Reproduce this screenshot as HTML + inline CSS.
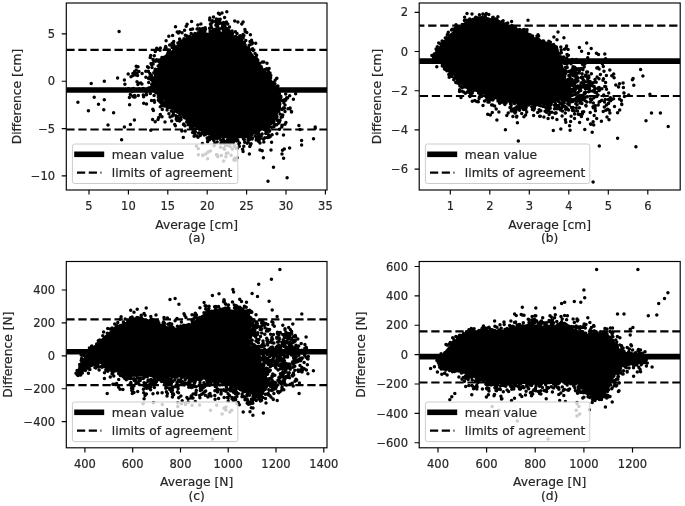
<!DOCTYPE html>
<html><head><meta charset="utf-8"><title>Bland-Altman plots</title>
<style>html,body{margin:0;padding:0;background:#fff}svg{display:block;filter:blur(0.55px)}text{stroke:#262626;stroke-width:.2px}</style>
</head><body>
<svg width="685" height="506" viewBox="0 0 685 506" font-family='"DejaVu Sans", "Liberation Sans", sans-serif' fill="#262626">
<rect width="685" height="506" fill="#fff"/>
<clipPath id="cl0"><rect x="66.3" y="3.0" width="260.7" height="187.0"/></clipPath>
<g clip-path="url(#cl0)">
<path d="M152.1 81.5L155.3 89.2L162.3 98.1L171.4 105.6L180.1 113L189.7 121.1L199.2 129L208.1 134.4L223.2 137.2L238.5 137.4L250.3 135.2L260.1 130.2L269.4 123.5L275.2 116.8L278.4 110.6L280.4 103.6L278.1 93L271.9 81.9L265.8 72.4L257.7 62.8L251.1 53.1L244.2 44.9L236.6 37.8L231.1 35.4L222.1 34L213.1 33.6L203.9 33.7L194.9 35.1L187.6 38.3L180.1 43.1L172.3 51L164.1 60.9L157.1 70.8Z" fill="#000" stroke="#000" stroke-width="2" stroke-linejoin="round"/>
<path d="M178.9 117.9h0M165.8 102.6h0M226.9 145.5h0M201.2 133.4h0M179.6 118.7h0M205.4 134.4h0M235.8 39.2h0M236.9 40h0M242.6 137h0M198.6 133.1h0M199.9 129.8h0M182.3 40.9h0M250.1 135h0M276.9 133.7h0M161.9 57.5h0M186.9 119.3h0M189.6 121.9h0M175.9 115.8h0M178.7 112.6h0M240.4 39.7h0M224.4 141.2h0M231.3 143h0M225 30.1h0M245 136.8h0M217.1 25.1h0M277.8 110.4h0M199.1 29.4h0M179.6 121.1h0M275.2 80.2h0M168.7 104.5h0M202.4 143.6h0M285 111.6h0M273.9 126.8h0M167.1 56.4h0M264.8 137.7h0M155.3 69.2h0M248.1 142.2h0M269.5 130.6h0M201.1 33.2h0M202.2 34.2h0M256.8 132.1h0M179.6 41.8h0M209 137.2h0M173.9 48.4h0M243.7 137.4h0M255.2 136h0M168.1 56.9h0M282.4 116.8h0M217.3 138.6h0M227.3 140.3h0M155.4 72.7h0M176.2 108.5h0M225.5 145.4h0M203 31.1h0M281.8 127h0M264.5 129.5h0M266.6 125.4h0M173.6 44.6h0M195.3 131.7h0M243.9 136.7h0M221.9 140.5h0M228.3 32.7h0M157.7 70.9h0M183.5 124.5h0M219.3 31.9h0M207.2 137.9h0M189.3 37.6h0M217.2 135.9h0M165.2 48.3h0M277 116.7h0M171.7 106.4h0M172.4 115.9h0M174.6 46.5h0M251.9 134.5h0M270.8 75.6h0M155.9 92.4h0M261 67.4h0M289.8 108.7h0M239.3 146.3h0M159.7 64.9h0M166.8 106h0M192.3 126.1h0M231.3 36.9h0M241.4 41.5h0M168.3 50h0M153.8 72.7h0M238.7 136.5h0M217.7 26.3h0M223.4 136.8h0M256.4 137.8h0M261.2 136.2h0M173.2 114.2h0M157.6 92.5h0M178.4 32.9h0M213.3 35.5h0M194.9 33.6h0M226.4 31.7h0M200.1 33.8h0M248.2 139.2h0M214.8 143.2h0M272.1 134.7h0M266.4 130.4h0M283.8 102.8h0M200.4 31h0M151 77.6h0M252.6 48.7h0M243.6 42.3h0M209.5 139.8h0M257.8 60h0M240.4 38.1h0M273.8 122.2h0M188.2 124.8h0M180.5 111.4h0M158.4 95.8h0M150.6 87.4h0M238.5 144.5h0M285.7 100.2h0M241.6 39.9h0M157.4 70.8h0M285 124.2h0M154.2 100.6h0M218.2 31.7h0M218.4 32.3h0M179.6 39.1h0M258.9 138.5h0M271.2 122.9h0M157.3 90.4h0M270.5 119.4h0M215.8 28.9h0M260 142.9h0M226.9 32.4h0M291.5 111.6h0M167.5 107.5h0M211.9 22.8h0M179.4 31.7h0M222.1 34.3h0M159.5 100.9h0M149.8 76.8h0M238.4 37.5h0M157.8 69.5h0M265 128.3h0M223.5 142.9h0M202.9 28.5h0M269.9 122.8h0M156.4 89.2h0M160.3 106.7h0M148.7 82.5h0M256.8 59.9h0M229.3 143.2h0M273.4 120.9h0M211.9 31.6h0M194.3 129.8h0M184.6 117.8h0M172.2 43.3h0M188.2 123.2h0M222.2 33.9h0M237.4 147.9h0M238.9 39.2h0M256.6 55.3h0M214.1 138.3h0M179.8 114.3h0M279.3 93.4h0M162.2 99.4h0M262.5 61.9h0M265.2 69.4h0M280 114.1h0M283.5 135h0M249 49.6h0M179 43h0M243.6 44h0M236.8 140.9h0M269.5 131.3h0M161.5 66.3h0M287.5 98h0M238.6 40.3h0M181.3 116.9h0M274.9 118.3h0M269.2 124.1h0M209.7 34.3h0M274.4 125.5h0M155.5 61.3h0M225.6 33.8h0M216.2 21.6h0M223.7 29.5h0M250.1 135.9h0M211.8 135.2h0M232.6 33.4h0M151 79.5h0M218.5 138.1h0M286.7 97.8h0M256.5 58.5h0M161.3 96.8h0M162.3 62h0M232.3 149.1h0M284.4 108.2h0M164.4 57.2h0M232.5 140.3h0M230.9 33.6h0M183.7 123.9h0M177.2 31.9h0M165.4 105h0M263.9 127.8h0M172.6 35.5h0M232.9 136.8h0M266.7 73.5h0M189.1 120.5h0M187.1 24.2h0M281.9 125.2h0M277.7 88.9h0M199.2 32.8h0M276.7 124.8h0M244.3 139.8h0M266.1 126.3h0M160.8 101h0M276.6 86.8h0M214.3 139.3h0M260.4 66.8h0M281.2 117.2h0M263.8 142.1h0M201.2 29.2h0M162.1 99.9h0M184.3 114.1h0M269.9 123h0M229.6 31.9h0M278 107.1h0M198.1 32.8h0M252.4 137.9h0M166.2 55.9h0M229.5 27h0M273.8 118.4h0M166.7 57.6h0M165.7 46.4h0M241.7 37.6h0M172.5 46.4h0M233.5 141.5h0M192 127.8h0M268.1 71.6h0M190.6 29.5h0M183.4 40.5h0M243.6 138.5h0M160.8 62.7h0M273.5 123.1h0M275.4 125h0M204.8 31.7h0M278.6 106.3h0M277.9 85.9h0M158.4 97.2h0M214.7 31.7h0M217.1 141.9h0M243.9 35.6h0M257.7 62.5h0M203.4 133.3h0M234.6 140h0M154.3 55.7h0M173 107.2h0M153.5 85.2h0M213.3 21.2h0M171.7 121.1h0M177.1 120.5h0M257.2 137.4h0M273.6 82.3h0M169.7 45h0M156.9 70.6h0M244 135.1h0M212 137.5h0M163.5 102.5h0M247.1 133.8h0M151.5 100.5h0M210.3 31.7h0M201.6 130h0M209.1 133.3h0M155.7 72.5h0M190.3 123.2h0M282 125.8h0M151.7 84.6h0M269.5 126.7h0M266.6 125.5h0M161.9 104.5h0M259.1 140.5h0M231.1 31.8h0M273.4 85h0M149.9 73.5h0M176.8 117.1h0M200.3 135.5h0M167.8 53.2h0M268.7 129.3h0M243.4 137.3h0M283.4 108h0M279.5 129.2h0M248.7 136.3h0M203.4 34.1h0M235.4 137.2h0M217.5 20.1h0M227.1 142.3h0M229.8 141.3h0M195.7 36.2h0M278.8 111.1h0M155 70.3h0M160.6 100.2h0M166 47.7h0M178.4 48.1h0M161 63.2h0M215.9 25.2h0M279.7 97.2h0M232.2 36.2h0M176.2 119.2h0M224.9 34.5h0M186.9 117.3h0M185.2 131h0M171.3 111.1h0M250 41.4h0M275.2 118.5h0M197.8 25.1h0M162 60.9h0M203.1 131.4h0M158.3 100.3h0M263.9 138.7h0M217.3 136.7h0M260.2 138.6h0M199.7 33.3h0M174.5 50.6h0M184 38.7h0M170.8 53h0M166.4 103.5h0M282.8 115.1h0M281.6 100.2h0M203.7 33.3h0M169.9 107.1h0M212.8 34.1h0M246.8 32.6h0M158.2 66.1h0M184.9 125.7h0M225.3 142.5h0M164.2 105.9h0M251.6 138.8h0M214.1 145.8h0M195.3 131.9h0M265.5 130.3h0M244.6 46h0M223 142.6h0M169.4 107.4h0M252.1 43.8h0M201.7 31.1h0M159.5 99.1h0M252.4 42.7h0M266.8 131.5h0M267.6 128.1h0M238.4 38.8h0M274.6 124.7h0M220.1 136.9h0M152.4 77.7h0M160 97.3h0M212.8 133.1h0M236.3 138.3h0M212.3 135.7h0M160.6 59.8h0M152 67.5h0M209.6 28.2h0M177.8 110.5h0M165.4 58.2h0M280 108.4h0M178.8 112.1h0M249.6 139.5h0M178.8 45.9h0M280.5 99.6h0M210.4 23.9h0M185.3 35.2h0M277.8 111h0M179.2 111.4h0M198.3 34.6h0M278.7 122.9h0M150.3 93.5h0M214.9 136.7h0M192.6 29h0M249 49.1h0M267.5 131.5h0M168.4 52.1h0M243.5 139.1h0M256.2 140h0M231.4 33.4h0M261.2 66.8h0M155.2 91.3h0M154.1 95.5h0M207.8 139.9h0M189.6 36.5h0M190 123.4h0M166.6 57.4h0M193.4 130.3h0M163.2 104.2h0M269.6 76.1h0M231.8 137.9h0M271 123.6h0M246.1 47.7h0M264.3 129.6h0M210.1 31h0M172.9 46.3h0M205.5 29.2h0M224.1 141.6h0M180.6 40.8h0M249.1 45.2h0M220.5 147.3h0M149 90.6h0M219.1 29.2h0M161.2 65.3h0M232.1 137.6h0M200.9 29.6h0M235.5 36.6h0M247.3 136.8h0M278.4 121.3h0M198.1 34.3h0M266.2 132h0M142.1 73.4h0M258.7 141.5h0M169.4 50.3h0M192.2 127.1h0M267.3 137.6h0M271.6 142.3h0M177.9 42.9h0M220.1 32.7h0M279.7 104.4h0M278.7 109.4h0M269.7 126.6h0M279.4 106.3h0M170.4 107.6h0M213.8 140.4h0M154.5 102.2h0M269.2 123.8h0M276.4 115.4h0M217.4 137.1h0M173.7 45h0M233.4 140.9h0M274.9 83.7h0M223.4 29.1h0M276.9 78.3h0M153.8 61.2h0M258.8 130.9h0M163.8 59.6h0M216.1 135.2h0M255.1 53.6h0M197.1 126.9h0M257.9 131.8h0M236.7 138.1h0M229.9 137.3h0M173.4 112.6h0M223.3 139.3h0M187 35.9h0M234.3 139.5h0M193.3 34.9h0M270.2 77.8h0M177.3 111.5h0M153 59.4h0M186.2 38.9h0M237 33.5h0M257.1 60.1h0M148.4 71.3h0M254.4 57.9h0M281.9 100.6h0M266.6 73.8h0M249.8 146.4h0M164.7 59.3h0M263.8 61.9h0M202.1 130.6h0M242.6 43.4h0M268.4 71.6h0M190.5 127.4h0M272.2 121.2h0M160.1 64.5h0M194.8 133.4h0M189.7 124.6h0M280.8 96.3h0M275.1 87.5h0M277.4 119.8h0M233.2 142.9h0M247.2 143.3h0M177.4 112h0M175.6 108.6h0M227.9 136.3h0M279.4 122.1h0M271.7 127.3h0M231.4 139.7h0M236.3 37h0M284.5 99.7h0M220.8 140.2h0M248.4 47.6h0M198.8 128.8h0M272.7 120.1h0M167.7 58.7h0M148.6 78.4h0M162.5 59.2h0M197.1 127.1h0M232.1 31.1h0M257.4 62h0M283.7 101h0M194.4 125.6h0M186.7 121.9h0M231.4 140.1h0M191.2 33.5h0M233.8 136.6h0M246.2 47.5h0M260.8 66.8h0M187.7 36.8h0M177.9 46h0M174.7 111.3h0M239.5 143.1h0M276.9 86.6h0M224.3 29.2h0M148.4 71.5h0M173 108.6h0M244.7 142.2h0M291.5 111.9h0M288 108.7h0M154.7 84.8h0M217.7 31.7h0M160.2 98.7h0M210.4 137.5h0M145.9 77.3h0M223.8 148.3h0M248.1 140.1h0M196.9 136h0M183.7 40.1h0M283.7 101.5h0M158.7 61.5h0M153.2 59.6h0M243.1 34.4h0M208.2 138.9h0M289.6 148h0M139.1 89h0M262.1 133.9h0M255.7 56.9h0M211.9 138.6h0M258.6 133.6h0M231.1 155.3h0M208.1 152h0M260 63.3h0M147.2 89.3h0M150.1 78.4h0M226.8 144.5h0M191.7 124.3h0M150.8 89.5h0M228 137.7h0M173.7 44.4h0M270.1 136.8h0M275.3 116.7h0M224.6 17.6h0M178.3 112.4h0M176.4 117.2h0M275.3 87.2h0M167 106.9h0M243.2 38.1h0M186.2 26.2h0M271.7 117.8h0M162.3 109.5h0M168.9 113.8h0M265.8 133.5h0M268.9 137.3h0M285 105h0M197.6 28.7h0M237.2 157.8h0M237.9 22.1h0M207.6 158.8h0M217.4 154.9h0M199.8 28.7h0M228.6 34.3h0M136.2 66.3h0M269 74.9h0M170.1 116.9h0M216.4 154.7h0M285.9 122.4h0M237.8 140.5h0M191.8 123.2h0M179.4 112h0M201.3 33.3h0M244.4 42.8h0M258.9 135.5h0M253.2 50.4h0M289.7 95.8h0M295.6 93.7h0M164 62.6h0M224.4 28.1h0M209.8 18.1h0M263.4 157.8h0M196.4 128.6h0M154.6 91.1h0M192.6 132.6h0M245.1 45h0M262.2 150.8h0M230.2 139.6h0M177.1 111.2h0M207.6 141.8h0M268.7 76.8h0M229.9 139.6h0M282.1 109.6h0M225.9 156.7h0M230 36h0M196.4 146h0M220.9 22.9h0M159.9 49.5h0M224.5 149.3h0M235.5 31.7h0M204.2 135.1h0M198 137.3h0M159.4 65h0M211.6 27.8h0M284.3 148.9h0M138.9 71.6h0M280.9 97.2h0M175.5 26.7h0M223 28.3h0M219.2 20.8h0M245.8 40.4h0M242.6 149.2h0M230 146.4h0M166.1 40.8h0M285.7 94h0M156.6 59.7h0M181.8 131h0M276.5 78.5h0M220.9 143.4h0M172.1 47.6h0M251 143.7h0M239.7 36.1h0M168.8 36.2h0M240.3 35.7h0M234.4 146h0M256.3 133.7h0M223.6 161.1h0M276.9 120.2h0M242 38.3h0M243.8 146.3h0M222.5 140.6h0M194.1 136.3h0M181 119.4h0M248.8 50.5h0M145.8 71.2h0M269.1 68.6h0M269.1 135.4h0M157 93h0M252.1 139.1h0M150.3 93.2h0M280.3 98.2h0M250.9 44.3h0M137.9 84.4h0M143.7 103.2h0M212.8 137.8h0M280 120.2h0M263.4 138.9h0M177.8 116.7h0M173.7 41.6h0M251.5 40.2h0M218 22.8h0M162.5 101.9h0M222 13.1h0M250.5 144.9h0M270.6 77.7h0M150.7 55.5h0M250.3 135.3h0M268.5 134.8h0M194.1 128.9h0M266.8 68.7h0M159.8 95.7h0M151.7 64.8h0M151 63.5h0M136 74.9h0M159.2 86.1h0M153.1 90.1h0M159 60.1h0M133.9 97.1h0M134.6 95.6h0M133.3 88.6h0M132.9 73.5h0M147.5 66.8h0M133 75.5h0M156.7 48.3h0M128.2 73.9h0M150.2 57.6h0M151.3 75.2h0M153.1 64.1h0M148.7 88.1h0M162.8 105.8h0M134.6 71.6h0M130.3 90.1h0M138.3 95.4h0M143.1 88.6h0M128.4 88.8h0M132.8 96.3h0M154.1 79.8h0M167.8 105.5h0M152.8 78.7h0M141.9 83.9h0M146.5 94.7h0M148.4 67.5h0M167.1 110h0M165 121.9h0M152.6 119.4h0M155.2 121.8h0M133 74.1h0M160 102.1h0M162 57.4h0M143.6 96.7h0M130.3 94.5h0M135.1 96.9h0M142.3 90h0M174.7 124.6h0M159.5 49.2h0M158 119.4h0M154.9 73.8h0M160.3 47.9h0M138.5 83.3h0M158.7 117.4h0M146.2 92.3h0M160 50.2h0M159.4 84.9h0M153.4 110.5h0M146.5 104.1h0M143.3 95.1h0M161.3 103.1h0M132.3 91.5h0M153.6 86.3h0M162 116.8h0M155.3 51.4h0M136.9 73.4h0M131 76.7h0M161 98.9h0M136.2 70.1h0M144.2 89.9h0M152.8 109.2h0M137.6 75.6h0M175.4 125.7h0M138 66.8h0M160.3 114.5h0M148 88.5h0M205.8 154h0M221.4 155.4h0M210.4 150.9h0M234.5 158.3h0M233.9 159.9h0M198.3 148.7h0M202.9 155.4h0M202.7 155h0M236.2 148.3h0M227.9 153.1h0M198.4 154.8h0M226.3 153.5h0M217.8 156.7h0M235.2 160.3h0M213.8 29.8h0M223 25.1h0M218.6 19.5h0M211 25.3h0M217.5 28.3h0M213.5 38.9h0M208.8 34.6h0M227.8 39h0M234.7 21.1h0M226.3 34h0M231.2 32.5h0M218.7 37.3h0M222.5 26.3h0M225 26.6h0M218 30.1h0M245.2 31.4h0M224.2 26.6h0M226.4 22.1h0M227.6 31.1h0M224.3 32.4h0M221.9 33.5h0M228 32.9h0M223.6 34.9h0M222.1 37.4h0M222.7 37.3h0M225.7 29.2h0M215.3 33.3h0M226.5 29.7h0M226.9 30.3h0M216.1 22.2h0M228.8 30.6h0M236.1 41.8h0M230.4 33.4h0M228.3 30.1h0M218.4 13.3h0M229.9 33.1h0M223.9 30.3h0M231.6 35.1h0M225.2 27.9h0M228.6 34.4h0M241.8 23.9h0M227.7 24.1h0M219.9 43.9h0M220.2 28.7h0M218.9 34.8h0M220.2 19.2h0M224.8 34.5h0M223.4 30.4h0M217.9 23.7h0M223.6 22.4h0M219.9 23.3h0M221.6 34.3h0M223.2 36.4h0M226.5 28.5h0M216 30h0M213.9 34h0M212.4 20.7h0M216.4 19h0M224.2 24.5h0M219.6 33.1h0M205.2 27.7h0M226.3 35.5h0M224.4 25.1h0M231 35h0M241.5 42.5h0M221.7 37.7h0M225.1 23h0M229.2 37.3h0M204 37.5h0M216.5 39.2h0M119.1 31.4h0M77.9 102.3h0M88.4 110.8h0M91.2 83.4h0M94.2 97.2h0M98.5 104.3h0M104.3 81.2h0M104.3 99.7h0M103.8 109.8h0M113.6 112.8h0M117.6 77.9h0M124.4 79.9h0M124.9 84.2h0M129.4 97.5h0M129.6 104.8h0M133.9 74.6h0M134.4 120.1h0M130.4 124.4h0M108 125h0M124.4 127.1h0M121.6 139.7h0M137 81.7h0M140.7 82.9h0M150.8 130.2h0M183.3 137.6h0M273.5 167.2h0M268 181.3h0M287.1 177.8h0M283.6 158.2h0M301.6 140.6h0M301.6 145.1h0M313.5 138.8h0M300.1 129.5h0M315.2 128.3h0M282.5 150.2h0M282 153.9h0M243.1 151.4h0M249.4 153.9h0M260 150h0M271 150h0M226.8 11.8h0M219.7 14.3h0M213.5 17.1h0M209.7 20.1h0M191.6 21.4h0M243.1 21.9h0M244.9 29.6h0M250.4 34.7h0M255.7 43.2h0M267 63.3h0M270 72.9h0M293.4 99.2h0M290.1 108h0M298.9 125.6h0M315.2 126.9h0M182 32.7h0M184.6 30.2h0M197.1 28.9h0M200.9 23.9h0" fill="none" stroke="#000" stroke-width="3.5" stroke-linecap="round"/>
<path d="M66.3 90.0H327.0" stroke="#000" stroke-width="5.6" fill="none"/>
<path d="M66.3 49.9H327.0" stroke="#000" stroke-width="2.2" stroke-dasharray="8.3 3.75" stroke-dashoffset="0.0" fill="none"/>
<path d="M66.3 129.5H327.0" stroke="#000" stroke-width="2.2" stroke-dasharray="8.3 3.75" stroke-dashoffset="0.0" fill="none"/>
</g>
<rect x="72.4" y="144.0" width="165.4" height="39.5" rx="2.2" fill="#fff" fill-opacity="0.8" stroke="#ccc" stroke-width="1"/>
<path d="M77.0 154.3h24.4" stroke="#000" stroke-width="5.6" stroke-linecap="square" fill="none"/>
<path d="M77.0 172.6h24.4" stroke="#000" stroke-width="2.2" stroke-dasharray="8.2 3.55" fill="none"/>
<text x="111.8" y="158.6" font-size="12.3">mean value</text>
<text x="111.8" y="176.9" font-size="12.3">limits of agreement</text>
<rect x="66.3" y="3.0" width="260.7" height="187.0" fill="none" stroke="#000" stroke-width="1.15"/>
<path d="M89.0 190.0v4.6M128.4 190.0v4.6M167.8 190.0v4.6M207.2 190.0v4.6M246.6 190.0v4.6M286.0 190.0v4.6M325.4 190.0v4.6M66.3 33.9h-4.6M66.3 81.2h-4.6M66.3 128.6h-4.6M66.3 175.9h-4.6" stroke="#000" stroke-width="1.15" fill="none"/>
<g font-size="11.5" text-anchor="middle">
<text x="89.0" y="210.3">5</text>
<text x="128.4" y="210.3">10</text>
<text x="167.8" y="210.3">15</text>
<text x="207.2" y="210.3">20</text>
<text x="246.6" y="210.3">25</text>
<text x="286.0" y="210.3">30</text>
<text x="325.4" y="210.3">35</text>
</g>
<g font-size="11.5" text-anchor="end">
<text x="55.1" y="38.0">5</text>
<text x="55.1" y="85.3">0</text>
<text x="55.1" y="132.7">−5</text>
<text x="55.1" y="180.0">−10</text>
</g>
<text x="196.7" y="228.5" font-size="12.3" text-anchor="middle">Average [cm]</text>
<text x="196.7" y="242.0" font-size="12.3" text-anchor="middle">(a)</text>
<text transform="translate(20.5 96.5) rotate(-90)" font-size="12.3" text-anchor="middle">Difference [cm]</text>
<clipPath id="cl1"><rect x="419.2" y="3.0" width="261.0" height="187.0"/></clipPath>
<g clip-path="url(#cl1)">
<path d="M435.5 53.4L437.6 59.5L444.1 66.6L452.9 73.7L459.1 81.2L466.1 87.5L477.2 91.2L488.7 95.3L504.9 100.5L521.3 102.6L535.8 104.1L549.6 103.5L558.8 99.8L566.1 94.9L567.2 89.6L565.6 79.7L562.9 68.2L559.1 56.5L556.9 46.5L549.6 43.8L537.7 39.8L525.8 33.7L514.5 27.7L503.1 23.9L493.4 20L484.6 17.3L477.1 17.2L468.2 20.7L462.1 25.1L453.2 32.2L446.2 39.3L440.6 46.4Z" fill="#000" stroke="#000" stroke-width="2" stroke-linejoin="round"/>
<path d="M481.5 96.6h0M457.4 83.1h0M505.5 102.3h0M558.5 105.7h0M463.6 91.9h0M567.2 61h0M445.3 38h0M515.6 112.1h0M523.6 31.6h0M522.9 104.5h0M469.7 89.3h0M497.4 21.8h0M574.4 72.4h0M457.4 75.8h0M560 109.3h0M449.2 77.3h0M504.9 104.5h0M568.1 101.5h0M442.7 65.2h0M533.4 103.3h0M492.3 97.8h0M515.3 107.9h0M550.2 108.2h0M505.7 103h0M436.6 50.5h0M514 108.8h0M498.5 21.5h0M449.8 75.5h0M560.6 59.4h0M465.5 86.8h0M512.9 116.4h0M568.8 75.5h0M498.9 112.1h0M562.5 96.9h0M447.7 34.1h0M518.8 107.7h0M521.6 104.3h0M489.1 102h0M551.1 104.4h0M501.4 22h0M516.7 108.7h0M461.1 86.4h0M527 29.7h0M467.3 91.9h0M515 113.1h0M524.2 29.6h0M504 103h0M517.4 122.8h0M562.1 116.1h0M566.8 80.8h0M454.4 29.8h0M496.9 19.7h0M517.4 101.2h0M566.2 93.1h0M492.3 112.4h0M565.4 60.8h0M563.4 74.7h0M474.8 100.4h0M480.4 94.2h0M488.8 100h0M443 43.7h0M556.3 105.2h0M470.9 90.1h0M565.3 70.3h0M536.5 104.3h0M453.8 79.7h0M503.1 20.8h0M480.3 91h0M545.1 111.2h0M512.9 28.7h0M554.5 105.3h0M455.1 78h0M521.2 105h0M559.7 59.1h0M499.9 103.3h0M562.4 71h0M566 92.7h0M486.3 13.6h0M513.5 110.1h0M485.4 15.8h0M515.2 109.2h0M554.5 108.7h0M519.3 104.7h0M532.6 36.1h0M525.6 115.1h0M512.7 101.7h0M452.1 34.6h0M434.7 53.7h0M489.6 99.9h0M523.3 29.7h0M457.5 80.4h0M564.7 79.8h0M551.1 103.1h0M451.2 36h0M433.6 57h0M562.4 111h0M445.8 37.9h0M567.7 90h0M459.2 83.8h0M566.6 71.9h0M516 110.5h0M528 103.9h0M532.4 109.5h0M561.8 99.9h0M538.6 36h0M500.8 102.4h0M561.8 62.2h0M576.9 87.5h0M447.3 35h0M533.6 115.5h0M442.1 41h0M526.7 34.1h0M569.3 92.4h0M442.3 66h0M555.4 103.4h0M527.4 35.4h0M546.5 112.2h0M505.3 24.7h0M550.4 42.3h0M560.1 53.2h0M440.1 48.1h0M567 96.6h0M516.6 117.1h0M496.2 109h0M576.4 86.4h0M560.5 56.7h0M525.9 104.7h0M553.9 37h0M484.5 101.1h0M519.7 29.4h0M558.5 101.6h0M548.8 41.3h0M467.5 87.6h0M555.6 107.4h0M445 69.2h0M497.2 98.2h0M487.3 94.8h0M539.3 102.9h0M566.3 97.4h0M459.5 91.6h0M467 13.4h0M535.1 105.4h0M551 102.3h0M524.5 107.5h0M517.8 30.6h0M507.7 22.9h0M519.6 110.3h0M448.8 74.5h0M457.4 27.9h0M488.6 100h0M560.8 47h0M539.2 105.3h0M485.3 96h0M563.1 101.6h0M444.5 68.9h0M488.8 100.2h0M573.8 85.5h0M468.3 90.5h0M561.8 100.2h0M539.6 40.5h0M543.9 105h0M520.5 108.1h0M561.3 52.8h0M493.1 17.3h0M472.4 92.8h0M509 101.3h0M506.8 24.4h0M486.9 95.7h0M446.5 38.5h0M499.2 100h0M567 64.3h0M549.2 105.1h0M457.9 77.2h0M528.6 105h0M511.3 109.1h0M559.4 57.5h0M482.9 14h0M547.5 105h0M499.9 22.3h0M539.7 110.9h0M457.7 26.4h0M537.9 39.4h0M517.8 103.5h0M569.1 91.4h0M534.5 108.2h0M569 83h0M564.8 82.4h0M511.8 26.6h0M487.9 102h0M523.9 116.8h0M560 60.8h0M532.6 103.4h0M563.8 98.7h0M559.2 57.9h0M561.9 98.2h0M574.1 75.4h0M525.1 32h0M456 24.7h0M441.6 45h0M528.5 104.2h0M519.3 102.6h0M550.2 112.3h0M560.3 57h0M523.5 109.6h0M520.4 106h0M489.1 97.2h0M444.5 68h0M510.8 107.1h0M482 92.1h0M444.6 41.4h0M510 107.4h0M508.2 112.9h0M563.5 56.9h0M526.7 112h0M551.9 112.3h0M547.5 107.9h0M545.9 103.2h0M469.2 92.4h0M506 102.9h0M568.5 92.3h0M485.3 95.8h0M461.8 82.6h0M556.1 113.1h0M487.7 114.2h0M444.8 67.3h0M511.8 25.5h0M454.9 28.5h0M558 53.3h0M540.5 105.7h0M451.7 74.4h0M566.1 48.1h0M569.6 85.6h0M462.2 24.4h0M510.5 103.8h0M568.8 80.1h0M494.3 20.5h0M539.1 109.7h0M527.6 102.4h0M525.7 109.8h0M536.5 38.4h0M480.4 95.1h0M540.8 110.7h0M567.6 99.4h0M541.6 102.3h0M444.4 66.3h0M529.9 103.3h0M491.3 99.5h0M547.2 104.9h0M467.6 21.5h0M511.2 105h0M551.2 103h0M539.7 116.3h0M523.6 109.2h0M436.1 57.9h0M576.3 93.4h0M472.3 101.2h0M568.4 55.2h0M498 101h0M565.1 97.5h0M543.9 116.9h0M563.8 99.7h0M548.6 110.9h0M572.4 70.4h0M562.4 105.7h0M511 27.4h0M567.2 67.5h0M570.5 93.2h0M488.2 99.3h0M561.2 50.1h0M549.1 114.5h0M572.5 95.2h0M501 22.5h0M566.6 46.1h0M471.1 94.1h0M545.8 107.6h0M504.6 101.7h0M473.3 90.5h0M488.8 14.5h0M476.8 101.5h0M451.7 76.2h0M503.7 23.8h0M492.7 17.6h0M436.8 60.8h0M566.4 85.2h0M571 63.8h0M570.3 94.7h0M562.6 71h0M548.1 118.5h0M438.7 43.1h0M436.1 48.9h0M525.3 104.5h0M518.7 103.7h0M549.5 105.4h0M515.5 101.6h0M454.7 29.3h0M521.5 103.5h0M542.9 106.5h0M564.4 71.5h0M469.7 18.9h0M486.9 99.3h0M494.6 105.9h0M436.1 55.4h0M501.8 98h0M512.9 111.1h0M562.6 58.2h0M482.1 17.3h0M471.9 93.2h0M565.3 73.9h0M483 105.6h0M564.5 63.5h0M479.4 97h0M520.9 102.2h0M454.2 78h0M514.5 103.6h0M493.4 99.1h0M460.2 85.5h0M502.2 101.4h0M462.3 91.3h0M525.9 32.2h0M525.8 104.2h0M466.5 20.2h0M572.3 59.6h0M537.7 112.6h0M481.5 92.7h0M564.7 76.6h0M518 108.2h0M479.4 14.7h0M568.5 82.8h0M498.7 21.4h0M494.6 97.1h0M572.5 85h0M550.5 105.2h0M478.3 101.8h0M470.5 94h0M566 60.4h0M537 36h0M521.7 113.5h0M531.7 106.8h0M569.6 82.7h0M472.3 89.5h0M451.5 30.1h0M537.1 103.5h0M455.8 82.6h0M539.9 41h0M519.2 29.9h0M499.6 103.3h0M569.2 104.9h0M565.8 95.6h0M457.8 28.5h0M510.1 101.4h0M516.8 116.2h0M433.7 58.7h0M436 55.1h0M438.1 47.5h0M465.4 93.3h0M464.6 17.2h0M491.6 105h0M524 106.7h0M512 102.2h0M462.2 87.6h0M506.8 115.5h0M497.9 16.8h0M571.2 70.7h0M437.9 51.1h0M525.4 102.9h0M511.6 21.5h0M492.5 105h0M564.4 62.9h0M562.7 58.9h0M472 14.1h0M547.7 103.8h0M482.3 95.8h0M526.2 107.6h0M463.8 86.6h0M494.7 97.8h0M436.8 66.7h0M537.8 104.7h0M515.5 27.8h0M565.4 95.2h0M565.5 67.5h0M567.6 89h0M470 96.5h0M560.7 59.7h0M461 97.6h0M543.6 41h0M533.8 103.7h0M431.9 55.6h0M567.3 82.5h0M546.9 109.4h0M449.6 71.6h0M560.7 63.2h0M437.3 46.8h0M459.6 89.7h0M548.9 106.7h0M464.4 20.6h0M557 39.7h0M530.1 34.7h0M538.8 39.5h0M440.5 44.1h0M511.2 110.9h0M512.3 102h0M519.3 103.7h0M564.5 49.3h0M570.4 71.1h0M492.7 99.9h0M566.7 87.7h0M568.5 71.6h0M486.1 95h0M464 87h0M565.9 82.2h0M573.9 84.1h0M526.8 31.8h0M513.5 110h0M540.3 116.3h0M566.7 57.8h0M479.1 98.6h0M516.8 106.8h0M528.2 34.2h0M506.5 23.4h0M538 34.7h0M566.7 90.6h0M436.9 59.7h0M522.6 107.4h0M448.3 32.2h0M532.6 106.6h0M563.6 97.4h0M450.7 35.2h0M539.4 103.3h0M543.8 103.7h0M529.7 103.7h0M566 99h0M553.6 44.5h0M480.6 91.7h0M521.7 30.6h0M450.3 72.2h0M534.1 106.4h0M573.4 75.8h0M478.6 92.9h0M495.5 19.1h0M434.2 54h0M491.1 97h0M560.8 62.4h0M510.5 26.1h0M457.1 26.7h0M468.8 21.7h0M560.9 57.8h0M459.9 85.9h0M468.8 19.9h0M486.8 97.7h0M455.8 28.2h0M475.7 17.3h0M575.7 79.7h0M446.8 70.8h0M533.3 107.2h0M573 107.6h0M542.8 41h0M538.4 103.9h0M452.3 29.2h0M437.9 50.9h0M533.7 110h0M588.5 91.8h0M599.1 87.5h0M566.2 107.3h0M579.5 114.5h0M575.8 76.8h0M555.8 112.8h0M609.6 98.9h0M609.2 110.2h0M569.6 125.7h0M563.6 94.1h0M562.2 94.8h0M574.7 94.6h0M572.6 83.2h0M613.2 61.8h0M590.4 84.8h0M561.7 104h0M584.4 97.8h0M581.2 68.6h0M581.1 87.4h0M573.9 71.2h0M595.3 105.7h0M604 71.3h0M603 80.3h0M583.8 84.6h0M573.5 68.8h0M590.2 90.9h0M574.3 87.9h0M564.6 99.7h0M623.9 92.9h0M599.3 90.4h0M574.3 85.8h0M597.8 67.4h0M562.8 98.6h0M574.8 91.1h0M633.1 78.6h0M570.1 130.3h0M589.3 84.3h0M578.1 78.1h0M567.7 103.8h0M592.9 82.7h0M605.3 99.6h0M570.9 72.3h0M565.6 109.2h0M569.2 82.2h0M575.4 94.3h0M574.8 91h0M576.9 76.4h0M580.6 102.6h0M575.8 103.8h0M585.8 105.6h0M601.9 88.8h0M578.2 92.6h0M605.6 58.7h0M594.3 90.6h0M592.6 90.9h0M574.5 118.5h0M591.7 83.1h0M605.6 82.4h0M582.9 99.4h0M575.8 72.6h0M594.8 92.2h0M570.6 101.9h0M591.2 48.5h0M585.8 60.4h0M575.2 80.5h0M599.2 101.9h0M566.3 95.1h0M595 88.6h0M574.7 67.2h0M575.9 77.4h0M618.3 62.1h0M599 78.7h0M568.7 94.5h0M566.2 86h0M605.7 86.8h0M621.8 104.5h0M570.6 121.6h0M575.4 76.2h0M603.7 61.3h0M585.3 76h0M604.8 86.5h0M573.9 99.6h0M604.3 106.9h0M565.8 122.2h0M586 76.3h0M592.2 85.4h0M577.3 86.2h0M588.7 76h0M576.5 69.8h0M598.2 89.3h0M552.5 117.8h0M608.7 92.9h0M574.4 69.8h0M586.1 106h0M603.3 66.5h0M564.7 106.5h0M595 79.5h0M588.5 53.5h0M578.4 88.3h0M583.7 111.8h0M599.9 101.5h0M570.2 100.4h0M621.4 100.6h0M587.7 57.8h0M571.1 75h0M574.3 82.8h0M575.2 86.3h0M585.5 88.9h0M585.4 85.4h0M560.9 97.3h0M574.5 84.2h0M562.9 97.2h0M604.8 54.1h0M568.4 95.8h0M573.8 75.2h0M596.6 92.4h0M579.6 122.5h0M566.2 94.2h0M576.4 82.1h0M587.6 119.3h0M590.5 124.1h0M571.3 85.5h0M573.1 66.7h0M571.5 107.4h0M633.8 85.3h0M570.2 92.8h0M575.9 76.9h0M560.6 110h0M581.1 83.2h0M584.2 67.1h0M573 91.4h0M577.6 86h0M586.8 101.9h0M569.1 85.4h0M605.9 110.3h0M561.4 103.9h0M568.4 96.4h0M581.1 62.4h0M572.2 69.6h0M578 81.1h0M571.3 81.5h0M581.2 86.6h0M608.5 103.6h0M559 107.3h0M595.1 108.2h0M582.6 77.3h0M587.3 96.7h0M569.4 97.6h0M573.4 110.6h0M593.1 121.7h0M566.6 82.7h0M593 106.7h0M560.2 103.2h0M590.2 112.4h0M563.3 92.1h0M579.3 69h0M571.2 81.3h0M585.6 74.9h0M576.2 108.1h0M556.9 119.4h0M573.7 66.9h0M573 67.4h0M581.5 77.3h0M566.4 108.8h0M568.5 93.9h0M574.3 110.9h0M576.2 59.4h0M580.2 98h0M586.7 72.1h0M624 93h0M561.3 99.1h0M583.5 87.1h0M568.7 82.6h0M584.9 63.9h0M580.8 98.6h0M621.7 104.1h0M565 91.2h0M611.7 99.6h0M577.5 111h0M609.9 112.9h0M568.5 91.2h0M594.4 89.7h0M575.3 82.2h0M567.1 94.9h0M569.6 100.2h0M603.5 78.7h0M623.8 62h0M577.4 69.5h0M563.7 103.1h0M619.7 110h0M607.6 109.2h0M588.5 82.5h0M587.7 78.8h0M590.5 98.7h0M569.9 98.2h0M577.6 100.6h0M608.5 103.3h0M571.5 99.4h0M579.4 107.8h0M573.6 70.8h0M579.1 100.9h0M564.1 89.6h0M582.5 95.2h0M575.5 98.9h0M604.5 102.1h0M581.5 77.8h0M628.7 95h0M584.6 81.7h0M579.4 70.7h0M588.1 87.6h0M568 91.2h0M596.1 96.3h0M592.2 132.3h0M613.6 98.7h0M573.4 81.8h0M589.4 88.6h0M571.9 89.8h0M569.7 86.3h0M575.3 89.8h0M568.8 84.5h0M571.8 74.4h0M565.2 100.3h0M588.6 81.2h0M578.3 88.2h0M576.5 68.8h0M568.2 79.2h0M574 87.9h0M568.6 79.4h0M568 96.4h0M570.2 89h0M572.5 110.5h0M567.8 86.5h0M600.4 74.5h0M582.8 62.6h0M618.5 87h0M580.1 103.1h0M586.8 75.8h0M593.9 106.4h0M598.2 105.1h0M578.2 114.2h0M581.6 51.3h0M565.8 89.7h0M568.9 88.1h0M583.1 79.7h0M614.1 77.8h0M581.5 82.8h0M623.1 83h0M561.8 107.7h0M566.6 83.1h0M596.8 68.1h0M582 114.3h0M601.8 100.3h0M582.1 98.8h0M576.7 97.6h0M572.7 101.5h0M579.6 88.2h0M567.6 86.4h0M575.9 100.8h0M582.3 113.9h0M570.2 95.7h0M571.3 73.6h0M589.1 84.2h0M579.5 88.9h0M610.4 97.7h0M586.4 81.7h0M585.1 93.2h0M576.2 76.1h0M610.6 100.8h0M583.8 64.3h0M572 79.4h0M557.1 108.7h0M569.3 81h0M576.4 73.9h0M589.2 89.2h0M602.4 63.8h0M582.9 69.8h0M576.8 81.2h0M586.7 43h0M567.5 109h0M574.6 114h0M576.6 98.4h0M593.7 125.1h0M573.1 67.3h0M567.1 89.8h0M570.5 91.2h0M576.4 68.8h0M585.6 92.4h0M598 95h0M617.6 112.7h0M582.1 73.7h0M607 116.9h0M568.3 95.8h0M576.2 99.6h0M575.7 94h0M587 88.3h0M573.3 80.7h0M569 85.2h0M570.4 100.1h0M598.1 88h0M608.4 99.5h0M598.5 54.4h0M568.6 110.1h0M565.4 86.2h0M573.8 68.7h0M580.2 95.4h0M576.7 101.6h0M599.1 68.9h0M597.1 77h0M569.5 88.2h0M606.5 104.9h0M560.8 129.1h0M582.4 64.3h0M581.5 97h0M564.2 102.9h0M601.4 121.3h0M571.1 116.3h0M606.5 89.3h0M591.8 99.5h0M570.8 83.3h0M578.7 96.1h0M576.3 72.7h0M590.3 102h0M609 119.7h0M568.7 86.9h0M564 99.2h0M570 78.1h0M592.8 86.1h0M594.2 86.6h0M584.8 129.5h0M570.4 82.9h0M581.4 116.5h0M561.4 98.3h0M579.6 86h0M566.2 84.8h0M596.7 118.4h0M575.1 71.5h0M640.6 69.4h0M576.4 75.9h0M578.6 68.8h0M567.4 88.5h0M593.3 107.8h0M572.6 83.1h0M578.9 98.4h0M563.9 101.8h0M614.5 106.4h0M603.8 95.7h0M603.7 95.1h0M562.5 96.7h0M593.3 103h0M611.8 75.7h0M594.2 115.4h0M588.8 77.8h0M590.1 81.4h0M606.4 75.6h0M590.9 124.3h0M571.7 71h0M564.6 98.6h0M582.8 98.1h0M603.2 111.6h0M579 73.1h0M586.2 96.9h0M587.3 85.4h0M593.9 97.7h0M584.4 92.8h0M568.6 82.5h0M596.2 82.3h0M585 100.6h0M589.6 86.4h0M596.8 96.4h0M581.9 99.9h0M571.3 92.8h0M577.1 104.7h0M619.5 98.9h0M583.7 80h0M574.4 87.6h0M565.3 112.9h0M581.2 100.1h0M566.1 96h0M587.6 72.1h0M565.4 119.7h0M588.7 76.5h0M581.9 103.5h0M587.8 81.3h0M595.4 110.8h0M561.8 95.2h0M580.7 90.4h0M568.4 96h0M624.4 96.4h0M555 113.3h0M582.4 112.1h0M595 82h0M594.3 97h0M581.2 100.1h0M596.4 53.3h0M615.8 84.9h0M584.8 93.7h0M563.3 102.1h0M591.4 73.8h0M579.6 90.9h0M570.6 72.7h0M642.9 75.9h0M632.4 79.8h0M649.9 94.2h0M660.4 112.9h0M668.2 126.6h0M651.5 112.9h0M646 120.7h0M635.9 146.8h0M617.6 138.2h0M599.3 146h0M593.1 181.9h0M518.3 141h0M505.4 129.7h0M553.3 130.5h0M496.9 119.9h0M490.3 114.9h0M528 20.2h0M558 31.9h0M563.9 37.8h0M579.4 47.5h0M568.1 49.5h0M567 54.5h0M609.8 70.1h0M613.7 74h0M619.5 83.7h0M623.4 87.6h0" fill="none" stroke="#000" stroke-width="3.5" stroke-linecap="round"/>
<path d="M419.2 61.1H680.2" stroke="#000" stroke-width="5.6" fill="none"/>
<path d="M419.2 25.6H680.2" stroke="#000" stroke-width="2.2" stroke-dasharray="8.3 3.75" stroke-dashoffset="3.1" fill="none"/>
<path d="M419.2 96.0H680.2" stroke="#000" stroke-width="2.2" stroke-dasharray="8.3 3.75" stroke-dashoffset="11.5" fill="none"/>
</g>
<rect x="425.4" y="144.0" width="164.4" height="39.5" rx="2.2" fill="#fff" fill-opacity="0.8" stroke="#ccc" stroke-width="1"/>
<path d="M430.0 154.3h24.4" stroke="#000" stroke-width="5.6" stroke-linecap="square" fill="none"/>
<path d="M430.0 172.6h24.4" stroke="#000" stroke-width="2.2" stroke-dasharray="8.2 3.55" fill="none"/>
<text x="464.8" y="158.6" font-size="12.3">mean value</text>
<text x="464.8" y="176.9" font-size="12.3">limits of agreement</text>
<rect x="419.2" y="3.0" width="261.0" height="187.0" fill="none" stroke="#000" stroke-width="1.15"/>
<path d="M450.3 190.0v4.6M489.8 190.0v4.6M529.3 190.0v4.6M568.8 190.0v4.6M608.3 190.0v4.6M647.8 190.0v4.6M419.2 12.3h-4.6M419.2 51.5h-4.6M419.2 90.7h-4.6M419.2 129.9h-4.6M419.2 169.1h-4.6" stroke="#000" stroke-width="1.15" fill="none"/>
<g font-size="11.5" text-anchor="middle">
<text x="450.3" y="210.3">1</text>
<text x="489.8" y="210.3">2</text>
<text x="529.3" y="210.3">3</text>
<text x="568.8" y="210.3">4</text>
<text x="608.3" y="210.3">5</text>
<text x="647.8" y="210.3">6</text>
</g>
<g font-size="11.5" text-anchor="end">
<text x="408.0" y="16.4">2</text>
<text x="408.0" y="55.6">0</text>
<text x="408.0" y="94.8">−2</text>
<text x="408.0" y="134.0">−4</text>
<text x="408.0" y="173.2">−6</text>
</g>
<text x="549.7" y="228.5" font-size="12.3" text-anchor="middle">Average [cm]</text>
<text x="549.7" y="242.0" font-size="12.3" text-anchor="middle">(b)</text>
<text transform="translate(381.1 96.5) rotate(-90)" font-size="12.3" text-anchor="middle">Difference [cm]</text>
<clipPath id="cl2"><rect x="66.3" y="261.5" width="260.7" height="186.3"/></clipPath>
<g clip-path="url(#cl2)">
<path d="M76.6 375.1L77.9 374.6L86.9 368.1L100.8 362.1L111.7 367.5L119.9 372L129.5 376.1L143.9 375.6L158.7 376.3L174 376.6L190 376.6L206.1 379L222 382.3L238.3 386.4L250 392.9L259.3 397.1L261.1 396.8L264.4 390L264.5 378.2L262.5 368L256.5 359.3L249.5 350.3L248.2 335.1L249 321.4L249.1 312.9L248 310.2L245 310.5L233.3 310.8L222.2 309.2L212.2 311L201.6 316.2L191.8 324L178.2 329L163 326.4L151.5 321.8L140 320L129 321.6L118.3 326L109.1 333.1L99.3 341.9L89.3 351.4L80.9 363.3Z" fill="#000" stroke="#000" stroke-width="2" stroke-linejoin="round"/>
<path d="M145.4 320.5h0M210.3 379.4h0M191.9 380.7h0M127.6 375.2h0M226.1 384.8h0M130.7 378.5h0M245 399.7h0M265.7 377.9h0M241.5 301.5h0M264.5 383.6h0M134.5 319.1h0M130.5 317.8h0M162.7 326h0M266.9 361.2h0M198.7 377.7h0M208.8 381.4h0M250.7 336.8h0M91.6 346.2h0M225.8 304.3h0M236.9 403.6h0M261.8 358.9h0M196.9 379.2h0M226.9 388.9h0M200.5 387.4h0M252.8 333.6h0M251.3 407.8h0M169.8 389.5h0M134.4 380.6h0M256.9 355.5h0M252.8 403.3h0M81.6 358.4h0M126.7 378.9h0M259.3 320h0M250.1 326.5h0M173.7 376.2h0M265.6 387h0M269.8 360.4h0M208 384.4h0M182.8 377h0M250.1 337.7h0M193.1 393.9h0M224.9 308.2h0M215.9 306.4h0M174.9 379.8h0M221 389.9h0M255.8 397.3h0M267.4 382.8h0M253 408h0M94.9 367.4h0M256.9 397h0M190.1 376.2h0M256.8 341.5h0M254.8 331h0M235.3 393.8h0M224.9 384.4h0M254.1 335.5h0M261.7 326h0M207.3 383.7h0M143.9 375.6h0M228.2 398.2h0M232.8 386.7h0M177 318.6h0M127.8 320.9h0M138.9 384.1h0M235.7 399.8h0M225 309.3h0M146.9 320.6h0M181.7 377.3h0M102.9 366.7h0M158.1 321.6h0M252.3 351.1h0M235.7 388.4h0M96.7 344.1h0M195.1 314.5h0M218.6 398.5h0M191.4 387.4h0M199.5 405h0M267.4 371.1h0M256.7 348.4h0M250.7 312.2h0M184 313.8h0M171.9 327.4h0M265.3 389.3h0M112.7 330.5h0M268.8 389.7h0M169.9 327h0M269 371.7h0M97.9 364.2h0M170.5 381.6h0M108.1 368.1h0M269.5 383.4h0M118.6 387.2h0M207 309.7h0M189.9 383.2h0M227.1 312h0M195.2 317.5h0M80.2 367.7h0M177.4 391.9h0M125.2 319.1h0M155.9 321.4h0M235.7 391h0M247.4 335h0M204 383.1h0M117.7 371h0M251.6 347.7h0M252.3 350.8h0M163.6 322h0M193.1 321.4h0M251.8 312.2h0M263.5 366.3h0M265.3 394.3h0M103.6 332.1h0M254.2 320.7h0M221 390.8h0M98.1 344h0M159.6 379.8h0M257.4 346.8h0M177.8 402.8h0M232.1 398.9h0M165.2 380.4h0M263.4 374.7h0M180.8 381.4h0M130.8 383.7h0M247.2 403.2h0M104.4 378.4h0M252.3 333.1h0M179.8 381.7h0M144.1 382.7h0M261.5 366.4h0M98.3 340.8h0M80 365.9h0M253.1 396.5h0M243.2 412.1h0M167.4 318h0M192.1 405.2h0M226.4 387.1h0M247.8 311.1h0M137.2 309.2h0M160.3 376.9h0M264.5 370.3h0M145.9 376.2h0M134 312.2h0M230.4 390.6h0M223 309h0M249 345.5h0M263.9 380.3h0M108.1 371h0M117.8 322.4h0M166 384h0M245.7 307h0M190.6 379.7h0M192.5 398.1h0M234 390.8h0M110.3 333.9h0M249.8 349.6h0M209.1 306.3h0M108.2 365.8h0M164 379.4h0M272 376.1h0M88.4 373.3h0M162.1 392.8h0M192.8 376.7h0M233.1 386.2h0M204.1 302.4h0M168.1 384.8h0M129.5 375.9h0M189.5 381.8h0M153.5 376.4h0M239.9 307.2h0M145.1 315.2h0M164.2 324.9h0M99.1 370.1h0M173.6 394.7h0M150.8 316.5h0M157.7 324.2h0M117.2 327.7h0M256.1 322.3h0M254.4 325.3h0M181.6 382.3h0M260.2 399.7h0M114.7 324.1h0M194.3 378.4h0M206.7 312.2h0M170.9 379.3h0M197.6 318.1h0M101 341.2h0M249.2 328.8h0M150.9 386.8h0M274.9 383h0M260.2 329.6h0M161 376.6h0M123.9 376.4h0M140.7 320.3h0M172.1 381.8h0M235.5 386.1h0M121.1 316.8h0M242 396.8h0M209.1 385.3h0M111.2 328.9h0M156 378.1h0M222.8 383h0M112.2 371.9h0M243 396h0M226 391.2h0M143.4 389.2h0M235.2 389.9h0M258.7 363.7h0M209 394.4h0M134 392.5h0M240 388.6h0M192 320.8h0M208.9 308.5h0M194 377.8h0M191 397.4h0M258.9 349.4h0M156 315h0M263.6 377.2h0M217.2 307.1h0M150.6 381.5h0M224.1 390.4h0M216.4 380.4h0M131.5 388.2h0M186.8 325.6h0M269.5 385h0M107.8 371.2h0M129.2 321.2h0M154.2 379.6h0M244.4 306.3h0M224.1 397.5h0M154.4 387.4h0M194.3 383.5h0M265.3 362.7h0M232.4 391.1h0M188.8 387.3h0M107 364.7h0M193.3 386.4h0M190.9 378.9h0M157.9 379.2h0M231.5 388.3h0M235 388.5h0M115.3 328.1h0M251.1 401.9h0M150 320.6h0M215.3 386.5h0M246.2 307.2h0M206.8 380.6h0M170.1 324.8h0M156.7 376.4h0M190.8 378.7h0M161.9 325.2h0M95.8 368h0M166.4 391.8h0M199.8 317.5h0M143.7 392.8h0M95.9 367.5h0M119.1 326.5h0M165.8 388.3h0M111.3 369h0M138.8 319.1h0M214.8 395.6h0M89 367.6h0M132.7 385.4h0M178.5 392.7h0M235.7 309.8h0M227.6 307.9h0M248.9 332.4h0M233.2 391.3h0M215.5 382.9h0M239.7 299.2h0M126.2 375.8h0M234.6 397.7h0M249.5 395.3h0M250.6 323.2h0M152.6 383.4h0M113.9 329.1h0M226.8 388.8h0M268.3 382h0M110.2 329.1h0M254.9 353.7h0M77.9 373.4h0M177.4 326.2h0M113.8 376.1h0M189.2 380.6h0M219.9 385h0M155.7 377.4h0M131.8 390.6h0M126 376.5h0M160.8 377.5h0M197.5 320.1h0M196.5 314.9h0M236.6 392.2h0M185.3 378.7h0M201.2 319.2h0M163.5 377h0M114.8 370.9h0M176.6 376.9h0M130.7 310.2h0M263.5 377.3h0M232.4 385.8h0M235.4 388h0M157.6 393.1h0M105.6 367.1h0M191.2 375.9h0M231.6 390.2h0M262.7 364h0M266 372.8h0M143.3 378.5h0M192.4 322.2h0M177.9 387.3h0M164 317.5h0M88.8 369h0M165.9 385.9h0M198.5 319.4h0M264.9 385.4h0M153.5 402.8h0M157.3 323.4h0M238.8 388.4h0M89.4 348h0M91.9 346.1h0M260.5 401h0M186.9 397.5h0M255.7 353.1h0M201.6 386.8h0M238.2 385.4h0M270.9 397.1h0M249.6 349.3h0M140.7 378.4h0M174.9 379.7h0M151.5 319.3h0M145 395.6h0M262.8 397.6h0M250.3 321.8h0M228.5 382.6h0M255.9 346.2h0M171.7 323.9h0M132.2 318.8h0M105.2 366.3h0M126.3 323.8h0M143.6 320.9h0M273 388.8h0M226 385.4h0M119.5 374.2h0M238.4 387.7h0M172.1 377.2h0M127.4 378.5h0M191.2 395.9h0M272.3 386.6h0M102.8 335.7h0M279.5 382.4h0M204 312.7h0M246.5 302.3h0M160.8 379.3h0M259.1 346.6h0M263.4 355.1h0M194.9 316h0M151.2 381h0M260.3 357.8h0M242.1 393.9h0M212.1 381.1h0M259.8 399.7h0M252.4 323h0M251.1 347h0M172.4 390.6h0M181.4 403.8h0M225.9 406.9h0M140.2 380.5h0M224.3 300.9h0M218 389.2h0M148.2 380h0M205 391.4h0M188.2 326.1h0M112.4 330h0M223.7 389.7h0M211.6 380.7h0M233.5 392.3h0M191 381.2h0M259 398.7h0M146.4 394.1h0M264.3 358.9h0M258.4 352.6h0M129.3 324h0M244.6 396.9h0M257 339.4h0M171.3 391.5h0M148.2 388.1h0M247.5 400.6h0M119.6 372.2h0M231.9 397.6h0M218.5 306.5h0M123 325.6h0M205.1 305.8h0M253.7 399.4h0M160.9 326.1h0M228.9 308.2h0M120 389.3h0M172.3 381.5h0M172.4 396.9h0M108.2 370.7h0M215.8 382.7h0M93 348.2h0M253.1 354.2h0M250.1 317.2h0M136.1 319h0M107.3 333.3h0M211.8 381.1h0M228.8 389.7h0M105.8 369.9h0M250.7 323.8h0M249.6 342.1h0M252 319.3h0M126.9 375.9h0M217.7 383.2h0M130.9 378.1h0M257.9 359h0M192.8 387h0M172.3 386.7h0M230.7 390.7h0M221.1 392.9h0M261.6 322.9h0M90.5 349.1h0M236.1 308.8h0M169.2 388.3h0M253.4 326.2h0M82.3 372.9h0M147.4 376.6h0M179.7 327.5h0M107.7 328.4h0M188 399h0M166.4 376.9h0M134.1 320h0M236.9 396.5h0M138.2 381.7h0M201.2 379.3h0M250.7 318.5h0M249 318.9h0M239 309.1h0M207 385.1h0M258.3 352.6h0M255.9 327h0M170.4 381.1h0M207.2 383.9h0M166 382.6h0M223 309h0M228.4 305.1h0M100.9 362.6h0M220.1 308.9h0M153 393.7h0M154 322.7h0M247.1 398.9h0M214.6 306.7h0M142.7 319.5h0M141.5 317.8h0M266.2 372h0M213 380.7h0M239.3 404.8h0M228.1 393.7h0M203.2 393h0M200.4 388.3h0M164.5 326.8h0M118.7 373.8h0M141.2 315.3h0M207.1 383.9h0M250 325.1h0M168.8 378.8h0M123.4 321.9h0M146.6 386.1h0M252.2 340.2h0M264.8 373.9h0M148.4 385.4h0M208.5 381.4h0M90.3 350.2h0M169.7 323.4h0M201.7 389.6h0M120.4 375.5h0M203.9 382.8h0M189.8 385.2h0M234.5 308h0M185.2 325.8h0M250.2 341.3h0M155.2 377.9h0M199.1 385.6h0M158.9 323.2h0M249.5 334.5h0M257.9 359.2h0M132.3 393.5h0M120.7 325.4h0M224 299.7h0M266.3 387h0M272 384.1h0M164.3 382.1h0M216.3 385.6h0M247.7 393.4h0M188 382.7h0M125.4 376.6h0M273.3 399.4h0M194.2 379.4h0M95.9 365.8h0M185.2 379.7h0M235.7 399.5h0M131.1 319.1h0M80.6 372.8h0M224 299.9h0M253.7 350.1h0M225.4 303.8h0M180 329h0M249.7 330.2h0M110.3 377.1h0M248.4 401.4h0M128.4 378.4h0M136.9 317.6h0M250.5 340.9h0M120 319.2h0M211.4 380.9h0M253.5 332.7h0M131.1 385.3h0M113.9 367.4h0M244.3 391.6h0M162.8 379.1h0M112 373.8h0M180.7 379.7h0M185.3 403.6h0M250.3 403.8h0M250.5 335.8h0M211.1 382.7h0M251.3 311.4h0M98.8 366.7h0M273.9 393.4h0M207.5 381.8h0M92.7 347.3h0M81.2 354.9h0M195.9 392.5h0M80.4 372.5h0M256 314.8h0M181.4 321.9h0M130.1 383.9h0M135.4 380.5h0M263.5 387.5h0M235.6 392.1h0M171.2 326.9h0M216.7 405.3h0M237.7 388.1h0M266 370h0M265.7 387.4h0M182.1 381.5h0M149.6 384.5h0M187.5 377.2h0M238.3 393.6h0M263.1 367.6h0M117.1 369.5h0M210.1 380.1h0M123.1 376.8h0M155.8 382.6h0M263.8 365.2h0M175.7 377.1h0M199.6 395.6h0M154.9 383.4h0M217.5 392h0M114.1 384.3h0M172.5 394h0M196.1 386.7h0M166.3 375.3h0M124.8 378.4h0M101.4 366.5h0M131.2 320.9h0M224.5 383.9h0M88 368.1h0M161.6 381.6h0M146.1 376.6h0M230.5 387.4h0M131.4 317.4h0M205.7 308.9h0M221 393.9h0M271.8 390.5h0M135.9 383.4h0M136.5 374.9h0M184.5 326.5h0M199.9 397.8h0M228.2 383.5h0M183.7 328h0M250.2 318.4h0M182.2 400.8h0M250.8 324.6h0M133.5 378.9h0M180.7 326.4h0M253.4 333.1h0M227.4 397.6h0M257.7 358.5h0M205.3 395.3h0M184.2 385.1h0M201.7 394.2h0M189.5 383h0M151 379.6h0M206.6 314.1h0M146.6 388.2h0M151.3 375.6h0M206.1 305.9h0M232.5 302h0M247 395.4h0M153.6 380.1h0M178.7 397.7h0M80.7 375h0M177.1 384.1h0M240.2 310.2h0M132.1 316.9h0M195.2 381.5h0M247 394.7h0M243 309.3h0M236 310.8h0M210 393.6h0M172.9 381.4h0M172.3 387.1h0M175.1 320.8h0M145 386.2h0M166.2 387.7h0M97.3 364.9h0M171.8 328.1h0M232 390.7h0M269.1 390.2h0M264.1 383.6h0M249.5 331.2h0M172.1 380.9h0M207.9 396.9h0M228.2 401.3h0M127.6 377.2h0M229.5 395.4h0M184.8 315.4h0M255.3 394.2h0M192.4 378.9h0M247.4 329.5h0M225.8 409.9h0M256.4 352.3h0M255.3 357.3h0M216 383.8h0M147.9 381.3h0M264.7 383.5h0M112.1 328.1h0M170.3 384.4h0M153.7 321.7h0M251.8 400.8h0M265.3 376.3h0M265.5 398.4h0M200 379.4h0M207.3 309.5h0M182.6 382.3h0M98.6 343.5h0M253.2 346.5h0M170.6 379.9h0M101.9 367.3h0M180.3 381.4h0M159.7 379.2h0M250 411.7h0M214.9 390.7h0M146.5 388.3h0M167 396h0M116.9 325.8h0M109.8 368.5h0M79.7 364.4h0M241.1 308.6h0M258.8 361.6h0M252.5 401.1h0M257.1 348.2h0M188.3 402.3h0M242.3 310.3h0M209.2 311.6h0M238.2 402.5h0M183.2 326.6h0M180.9 396.1h0M161.1 378.5h0M195.3 313.2h0M250.7 349.6h0M253.5 351.4h0M231.7 384.7h0M184.8 383h0M264.2 372.5h0M118.7 379.6h0M178.5 380.1h0M259.8 397h0M235.7 384.6h0M229 310.6h0M153.9 380.8h0M194.2 382h0M173.3 393.8h0M214.5 384.3h0M248 333.7h0M137.7 391.6h0M258.4 364.8h0M243.5 390.3h0M77.2 372.6h0M255.5 396h0M183.7 325.2h0M250.8 318h0M189.4 378.1h0M116.6 383.4h0M198.4 379h0M106.6 364.8h0M103.1 364.4h0M267.1 382.1h0M209.8 385.2h0M166.8 377.4h0M223.2 309.4h0M251.3 312.3h0M151.3 319h0M150.6 389.8h0M255.9 396.7h0M203.2 387.7h0M164.4 323.3h0M153.4 321.6h0M122.7 375.1h0M77.1 370.5h0M112.4 374.1h0M112 371.2h0M158.4 376.7h0M139.1 320h0M237.8 310.6h0M261.7 366.7h0M161 378.9h0M195.3 401.5h0M192.5 319.8h0M248.2 312.1h0M137.5 378.1h0M233.6 400.5h0M249.6 342.7h0M196.3 390.4h0M171.8 326.6h0M222.3 384.7h0M211.6 311.2h0M248.5 404.2h0M273.1 398.9h0M116.8 370h0M186.9 383.7h0M167.4 393.4h0M156.6 381.4h0M200.6 386.6h0M145.8 383.4h0M164.4 382.4h0M187.9 383.4h0M186.8 325.3h0M256.2 400.5h0M171.3 383.7h0M267.7 384.7h0M167.3 382h0M223.6 301.8h0M139.2 378.7h0M119.6 326.4h0M83.9 355.6h0M231.2 386.8h0M225.6 308.2h0M138.1 320.5h0M102.2 363.3h0M139.5 378.7h0M249.4 352h0M144.1 313.4h0M267.5 374.2h0M256.4 395.3h0M215.4 309.4h0M163.2 322.8h0M215.1 399.2h0M235.8 390.9h0M206.7 378.9h0M256.5 359.1h0M235.3 393.2h0M171.4 382.9h0M190.8 377.7h0M279.5 381.3h0M194.6 383h0M174.9 386.8h0M111.7 370.8h0M249 344.3h0M199.4 380.1h0M251.9 343.6h0M143.9 385.5h0M237.4 306.7h0M185.9 317.5h0M258.6 356.2h0M265.7 373.2h0M156.7 376.5h0M200 383.1h0M110.2 366.2h0M211 395.9h0M180.6 326h0M236.3 305.8h0M234.3 305h0M81.2 360.6h0M247.2 331h0M122.9 389.4h0M173 327.6h0M245 391.6h0M266 402.9h0M144.1 398.7h0M89.9 369.5h0M76 373.2h0M192 314.8h0M145.4 376.8h0M235.5 307.6h0M223.8 384.3h0M181.8 377.5h0M236.4 308.5h0M251.7 400.1h0M178.2 385.7h0M168.9 382.4h0M250.3 348.5h0M110.4 368.7h0M188.6 377.9h0M243.6 391.3h0M155.8 376.2h0M102.6 365.7h0M99.7 339.9h0M123.3 374.1h0M273.2 359.9h0M134.9 379.1h0M271.5 385.7h0M276.3 385.4h0M163.6 381.3h0M107.3 366.5h0M181.7 382.9h0M249.5 310.3h0M138.4 317.8h0M199.9 307.8h0M263.6 355.7h0M178.1 388.7h0M167.6 380.2h0M200.3 390.5h0M207.4 385h0M200.2 380.3h0M261.6 346.7h0M237 307.3h0M259.1 363h0M87 354.1h0M130.9 382.4h0M233.4 390.8h0M95.1 347.5h0M233.9 398.4h0M261.6 400.3h0M132.8 388.9h0M205.7 391.1h0M107.6 364.4h0M254.6 356.3h0M254.5 352.4h0M253.7 395.4h0M134.4 378.7h0M194 318.5h0M255.9 357h0M260.2 400.3h0M195.9 394.4h0M190.9 398.1h0M153.1 320.1h0M133.9 386.1h0M112.9 368.8h0M272.2 380.2h0M78 375.6h0M126.3 379.7h0M251.4 399.3h0M261.1 367.1h0M167.9 324.3h0M250.6 330.4h0M184 326.9h0M239.5 387.5h0M88.8 369.1h0M217.2 389h0M207.8 309.6h0M192.8 319.6h0M193 398h0M216.3 386h0M263 380.4h0M268 360.2h0M195 386.4h0M95.7 367.1h0M153.3 383.9h0M112.9 384.3h0M172.3 389.1h0M177 382.4h0M88.2 352.8h0M243.4 391.5h0M241.5 390h0M85.4 370.5h0M171.4 329h0M223.3 383h0M188.8 324.5h0M214.8 381.7h0M174.5 375.8h0M240.2 389.5h0M204.8 386.6h0M271.5 382.2h0M112.7 373h0M273.4 334.5h0M306.1 348h0M277.4 362.4h0M294.8 366.2h0M279.6 376.9h0M299.9 371.1h0M275.7 388.5h0M270.9 362.8h0M307.2 352h0M279 365.5h0M264.5 325.1h0M284.7 356.4h0M263.5 323.7h0M267.8 324.6h0M255 348.5h0M274.7 362.4h0M269.4 362.1h0M283.2 353.4h0M286.4 384.9h0M260.6 327h0M259.2 352.1h0M296 379.2h0M308 359.1h0M265 327.8h0M282 381.9h0M258.6 355.6h0M277.5 346.1h0M265.8 359.9h0M264.1 375h0M264.7 349.2h0M298 369.9h0M291.5 355h0M271.7 390.3h0M256.5 323.3h0M275.7 364h0M296.1 360.7h0M275.2 348.8h0M282.2 345.2h0M278.8 345.8h0M288.4 343.3h0M284.9 369.5h0M281.9 387.7h0M256 333.3h0M264.7 361.7h0M293.8 351.9h0M293.4 373.1h0M289.7 342.2h0M261.6 329.2h0M272.3 388.2h0M257.5 334.4h0M259.4 359.9h0M292.2 343h0M256.6 363.6h0M271.1 365.2h0M302 369.4h0M280 377.9h0M255 326.7h0M263 321.8h0M294.6 336.6h0M272.8 390.1h0M277.8 350.4h0M256.1 351.5h0M291.6 348.8h0M262.8 343.8h0M286 352h0M268.3 364.6h0M268.6 394.9h0M254.7 335.6h0M257.9 332.8h0M267.9 330.9h0M269.7 356.8h0M264.4 379.8h0M263.3 356.9h0M259 339.6h0M269.3 330h0M280 391.7h0M266.5 331h0M276.8 338.3h0M286 332.8h0M304.6 355.3h0M255.7 348.8h0M283.6 359.1h0M299.7 358.8h0M296 347.4h0M291.3 346.2h0M265.3 357.7h0M287.8 339.3h0M282.7 334.6h0M296 362.3h0M275.9 362.2h0M280.4 364.9h0M256.8 371.6h0M271.7 354.5h0M279.1 346.8h0M256 341.1h0M306.2 347.3h0M272.6 339.3h0M266.7 338.3h0M252.3 333.5h0M264.3 381.9h0M273 388.2h0M270.2 386.2h0M262.9 346.1h0M290.1 384.3h0M284.1 362.6h0M298.7 345.9h0M256.7 327.4h0M289.2 338.5h0M255.7 336.9h0M276.2 347.3h0M283.3 382.8h0M305.9 357.3h0M253.9 329.8h0M259.3 361.6h0M271.4 390.3h0M284.5 378.3h0M277.7 391.4h0M264.9 383.9h0M268.8 378.9h0M301.9 353h0M286.4 356.8h0M264.4 345.8h0M282.8 325.2h0M284.2 377.6h0M296.1 357h0M287.5 377.2h0M287 342.6h0M305.3 353.3h0M262.3 376.9h0M296.7 380h0M258.4 342.8h0M276.4 386.7h0M258.5 354h0M301.8 350.3h0M254.1 344.8h0M263.8 359.8h0M267.6 340.1h0M282.1 387.1h0M267.1 370.9h0M299.1 359.1h0M260.5 336.4h0M262.1 374.9h0M256.8 359.7h0M262.8 379.1h0M255.6 324.9h0M265.7 323.5h0M254.8 330.3h0M266.4 368.2h0M281.8 390.1h0M276.7 364.6h0M287.6 354.9h0M263.2 343.2h0M292.7 347.1h0M256.8 322.1h0M288.2 347.2h0M271 349.3h0M278.4 358.4h0M285 328.7h0M269.7 395.5h0M270.6 334.3h0M282.3 368.7h0M251.7 324.8h0M276.1 385.7h0M273.1 353.1h0M289.7 367.2h0M286.5 356.1h0M288.9 375.6h0M296.3 380.6h0M278.1 370.1h0M273.3 342.9h0M288 336.7h0M295.3 349.6h0M296 345.3h0M273.5 357.6h0M281.3 364.1h0M262.7 368.5h0M263.7 373.2h0M287.7 335.7h0M272.1 377h0M286.3 363.6h0M284 378.9h0M274.3 326.2h0M252.4 329h0M283.2 359.9h0M274.5 389h0M277.6 346.9h0M306 347.9h0M262 384.3h0M278.6 392.8h0M268.7 380h0M265 387.6h0M290.8 339.1h0M283.1 374.8h0M301.2 343.4h0M277.5 332.3h0M257.3 333.7h0M260.4 389.6h0M272.5 349.4h0M271.9 337.4h0M288.6 352.9h0M277.3 353.3h0M285.5 365.5h0M271.9 362.1h0M251.9 331.8h0M280.4 373.7h0M263 341.1h0M261.7 333h0M280.7 358.3h0M305.1 352.9h0M253 334.5h0M284.4 360.7h0M268.1 379.1h0M262.2 393.2h0M261.1 351.7h0M294 355.1h0M257.3 363.5h0M274.5 384.8h0M269.6 329.5h0M259.7 380.4h0M267.5 329.2h0M292.2 383.3h0M288.9 333.6h0M269.2 364.3h0M278.9 334.7h0M302.3 358h0M258.3 326.6h0M276 383.2h0M271.7 342.5h0M262.3 377.8h0M289.8 334.4h0M285.1 334.3h0M266 358.3h0M291.6 354.1h0M268.1 369.3h0M264.8 334.2h0M283.5 359.9h0M291.7 333.8h0M270 378.6h0M253.5 333h0M266.6 374h0M285.8 351.7h0M273 385.8h0M290.4 329.8h0M289 364h0M272.9 322.6h0M283.7 335.3h0M302 367.6h0M274.5 385.4h0M264.7 374.6h0M262.7 352.3h0M283.8 389.8h0M266.9 373.7h0M273 324.8h0M267.1 393.9h0M267.8 368.7h0M295.6 336.8h0M304.3 353.2h0M294.1 360.9h0M297.8 339.1h0M258.9 367.9h0M281.4 384h0M268.3 393.4h0M262.2 346.8h0M289.9 351.6h0M286.2 376.6h0M289.7 343.3h0M304.1 362.4h0M279.6 349.1h0M267.7 344.9h0M261.4 345.7h0M254.7 334.9h0M259.1 361.3h0M258.5 360.8h0M257.3 323.7h0M267.7 363.2h0M291.7 333.6h0M300.9 359.1h0M301.1 358.3h0M271.9 321.7h0M304.8 348.2h0M256.5 362.3h0M261.9 320.4h0M272.8 365.3h0M280.6 364.2h0M292.8 354.8h0M308.3 356.4h0M274.8 375.2h0M281.5 376.4h0M271.9 347.2h0M267.4 358.2h0M254.2 349.2h0M274.8 382.3h0M277 337.9h0M261.7 345.5h0M267 379.2h0M295.1 341.2h0M302.3 370.6h0M295.3 335.5h0M293.9 348.2h0M286 369.4h0M269.9 351.5h0M293.5 342.3h0M288.9 353.7h0M278.3 356.8h0M275.2 349.1h0M293.6 364.2h0M256.9 341h0M297.7 353.5h0M287 368h0M292.9 367.3h0M286.2 349.2h0M275.3 385.6h0M293.7 374.9h0M273.4 350.4h0M278.9 345h0M266.1 360.5h0M279.3 338.9h0M274.3 365.2h0M281.6 354.6h0M263.4 351.8h0M296.4 360.2h0M292.8 324h0M284.4 337.6h0M280.7 346.7h0M272.4 347.1h0M276 368.1h0M285 346.9h0M266 361.7h0M268.6 384.4h0M299.4 382.9h0M285.9 371.4h0M262.3 359.9h0M281.8 355.1h0M272.4 354h0M304.3 368.8h0M283.2 364.5h0M289.7 344.8h0M285.6 370.7h0M255.5 333.9h0M306.4 370.1h0M279.2 338.1h0M283.7 354.6h0M306.1 336.9h0M272.8 374.1h0M301.8 359.1h0M275.4 355h0M281.6 360.3h0M279.9 357.6h0M277 362.4h0M292.9 361.9h0M285 368.9h0M282.8 372h0M268.5 342.5h0M294.8 370.3h0M290.2 369.3h0M280.3 368.7h0M293.7 336.6h0M275.9 355.7h0M246.2 359.9h0M286.4 347h0M276.8 361.8h0M294.9 340.3h0M290.6 353.7h0M282.3 343h0M290 337.1h0M281.6 358.7h0M259.6 361.4h0M295 381.3h0M289.9 352.4h0M273 351h0M290.9 347.3h0M284.4 369h0M283.6 359.9h0M285.5 368.1h0M292.3 362.7h0M273.4 364.9h0M285 367.2h0M302.7 351.2h0M278.2 364.7h0M282.6 354h0M295.9 346.8h0M273.9 343h0M297.4 348.5h0M285.1 356.8h0M270.3 370.3h0M285.9 371.2h0M282.4 365.7h0M286.7 333h0M293.6 357.6h0M282.8 360.4h0M285 378.7h0M281.9 363.9h0M300.7 360.8h0M288.9 367.9h0M266.9 372.3h0M270.6 342h0M278.9 356.5h0M286.7 335.3h0M280.1 376.4h0M286.9 349.9h0M284.5 365.5h0M288.8 351h0M307.4 364.8h0M284.5 379.9h0M287 364.3h0M291.9 349.6h0M286 347.4h0M282.2 342.6h0M277.9 380.2h0M270.5 366.4h0M293.8 358.4h0M265.7 362h0M276.1 365h0M277.6 342.1h0M257.2 352h0M288.5 364.5h0M291.5 338.6h0M280.3 377.3h0M293.8 354.8h0M292.5 375h0M286.6 337.4h0M265.5 361.6h0M277.1 356.6h0M269 349.3h0M277.6 333.6h0M287.8 364.8h0M279.1 341.3h0M272.3 359.8h0M262.2 364h0M278.9 348.4h0M275.6 367.5h0M295.1 360.9h0M265.3 358.8h0M277.4 333.5h0M276.8 337.3h0M284.7 371.7h0M283 380.8h0M279.2 361h0M275.5 351.8h0M288.1 373.5h0M270.3 355.3h0M293.2 349.4h0M293.5 348.9h0M284.8 369.1h0M283.1 339.7h0M290.7 334.3h0M255.8 354.6h0M279.7 352.4h0M289.2 372.7h0M313.4 370.8h0M281.7 345.8h0M288.8 347.5h0M301 358.5h0M294.6 357.3h0M280.2 332.6h0M273.3 350.9h0M291.6 331.5h0M302 371.9h0M304.9 344.4h0M284.1 346.6h0M283.3 359.9h0M289.5 377.7h0M245 363.8h0M285 343.9h0M289.3 365.5h0M292 339.7h0M307.9 373.7h0M260.5 353.9h0M284.5 382.4h0M292.6 376.1h0M298 361.6h0M254 360.6h0M265 372.7h0M285.2 341.3h0M284.6 366.6h0M267 340.6h0M300 365.6h0M259.8 346.9h0M294.9 336h0M267 354.6h0M285 329.9h0M270.8 354.3h0M282.3 353.2h0M292.7 361.8h0M294.1 351h0M282.2 365.1h0M287.1 356.4h0M293.2 386.1h0M263 346.1h0M279.7 353.6h0M298.5 371.5h0M284.3 372.7h0M284 367.8h0M295.2 341.1h0M253.7 354h0M282.8 362.4h0M289.4 353.1h0M306.4 348.2h0M281.6 352.8h0M267.2 371.2h0M267.8 384.7h0M272.6 352.9h0M276.3 360.6h0M298.9 355.2h0M287.6 356.9h0M285.9 351.6h0M290.3 343.8h0M300.3 370.1h0M282.5 376.5h0M280.8 349.1h0M279.8 378.1h0M273.2 353.9h0M267.2 343.5h0M277.1 316.4h0M285 343.5h0M281.5 367.1h0M304.6 354.9h0M273.3 356.4h0M289.3 347.1h0M284.7 352.9h0M274.7 354h0M307.4 358.5h0M296.4 353.8h0M271.4 339.8h0M273.6 357.6h0M277.1 358.8h0M282.7 344.6h0M288.4 365.3h0M270.6 353h0M282.8 365.3h0M287.9 354.3h0M278.9 377.5h0M277.7 346.8h0M287.9 353.3h0M290.1 365h0M298.5 350.1h0M295.3 347.6h0M285.8 369.6h0M272 361h0M270.9 347.5h0M170 299.6h0M175.1 298.5h0M178.9 304.2h0M146.2 308.1h0M212.4 295.4h0M219 293.8h0M232.9 289.6h0M233.6 291.9h0M252.1 293.5h0M257.5 296.5h0M258.7 284.2h0M271.4 279.2h0M279.9 269.6h0M269.1 301.2h0M272.2 310h0M301.8 313.9h0M288.7 327.4h0M299.1 393.6h0M252.9 415.2h0M263.3 412.9h0M277.2 400.6h0M104.5 372.8h0M107.2 393.6h0M143.1 403.7h0M162.3 404.4h0M177.8 406.4h0M185.5 404.4h0M210.5 410.2h0M224 408.3h0M229.8 412.1h0M231.7 410.2h0M222.1 414.1h0M212.4 439.1h0" fill="none" stroke="#000" stroke-width="3.5" stroke-linecap="round"/>
<path d="M66.3 351.7H327.0" stroke="#000" stroke-width="5.6" fill="none"/>
<path d="M66.3 319.3H327.0" stroke="#000" stroke-width="2.2" stroke-dasharray="8.3 3.75" stroke-dashoffset="0.0" fill="none"/>
<path d="M66.3 385.1H327.0" stroke="#000" stroke-width="2.2" stroke-dasharray="8.3 3.75" stroke-dashoffset="0.0" fill="none"/>
</g>
<rect x="72.4" y="402.0" width="165.4" height="39.6" rx="2.2" fill="#fff" fill-opacity="0.8" stroke="#ccc" stroke-width="1"/>
<path d="M77.0 412.3h24.4" stroke="#000" stroke-width="5.6" stroke-linecap="square" fill="none"/>
<path d="M77.0 430.6h24.4" stroke="#000" stroke-width="2.2" stroke-dasharray="8.2 3.55" fill="none"/>
<text x="111.8" y="416.6" font-size="12.3">mean value</text>
<text x="111.8" y="434.9" font-size="12.3">limits of agreement</text>
<rect x="66.3" y="261.5" width="260.7" height="186.3" fill="none" stroke="#000" stroke-width="1.15"/>
<path d="M84.9 447.8v4.6M132.7 447.8v4.6M180.5 447.8v4.6M228.2 447.8v4.6M276.0 447.8v4.6M323.8 447.8v4.6M66.3 290.0h-4.6M66.3 322.9h-4.6M66.3 355.8h-4.6M66.3 388.7h-4.6M66.3 421.6h-4.6" stroke="#000" stroke-width="1.15" fill="none"/>
<g font-size="11.5" text-anchor="middle">
<text x="84.9" y="468.1">400</text>
<text x="132.7" y="468.1">600</text>
<text x="180.5" y="468.1">800</text>
<text x="228.2" y="468.1">1000</text>
<text x="276.0" y="468.1">1200</text>
<text x="323.8" y="468.1">1400</text>
</g>
<g font-size="11.5" text-anchor="end">
<text x="55.1" y="294.1">400</text>
<text x="55.1" y="327.0">200</text>
<text x="55.1" y="359.9">0</text>
<text x="55.1" y="392.8">−200</text>
<text x="55.1" y="425.7">−400</text>
</g>
<text x="196.7" y="486.3" font-size="12.3" text-anchor="middle">Average [N]</text>
<text x="196.7" y="499.8" font-size="12.3" text-anchor="middle">(c)</text>
<text transform="translate(12.4 354.6) rotate(-90)" font-size="12.3" text-anchor="middle">Difference [N]</text>
<clipPath id="cl3"><rect x="419.2" y="261.5" width="261.0" height="186.3"/></clipPath>
<g clip-path="url(#cl3)">
<path d="M438.6 365.2L447.1 369.3L458.4 371.3L470.8 374.1L482.5 379.5L493 383.2L503.8 383L519.2 382.7L534.6 382.9L549.7 383.3L560.4 381.5L572.5 377.7L582 387.7L590.8 395L598.2 398.3L603.2 395.7L608.2 388.3L612.9 377.8L619.2 367L630.3 364.5L641.2 362.7L645.8 359L644.5 357.2L634.2 354.4L621.7 353.8L616.3 345.5L610.9 337.6L606.7 334.7L596.3 333.1L584.7 335.2L575.1 332.8L567.8 326.8L557.7 325.6L546.2 327.1L534.3 325.6L523.6 325.5L512.8 328.6L502.3 333L491.9 331L480.9 330.6L470.1 332.2L459.2 337.4L449.9 346.5L442.4 355.5Z" fill="#000" stroke="#000" stroke-width="2" stroke-linejoin="round"/>
<path d="M501.9 331.3h0M633.6 376.3h0M609.3 384.3h0M623.1 347.9h0M510.1 385.3h0M526.7 386h0M496.1 332.6h0M516.2 315.4h0M503.8 385.6h0M440.7 366.8h0M616.5 344.7h0M628.4 363.7h0M572.1 383.1h0M472.2 380.1h0M491.2 384.9h0M645.5 362h0M500.8 332h0M530.6 324h0M477.1 386.9h0M532.1 316.6h0M620 369.4h0M527.9 384.3h0M443.5 368.9h0M533.4 325.8h0M539.6 386.2h0M562.5 380.4h0M547.5 388.5h0M501.2 328.3h0M555.6 326.5h0M513.3 326.4h0M616.5 348.2h0M523.1 386.6h0M546.8 325.6h0M523.1 387.4h0M530 327.3h0M622.7 351.3h0M617.9 379.3h0M523.3 322.7h0M468.9 385.4h0M553.1 323.6h0M551.2 322h0M519.5 388.9h0M488.8 382.8h0M453.9 339.8h0M558.3 383.8h0M499.9 389h0M563.8 395.4h0M571.3 382.8h0M635.5 352.7h0M439.7 367.3h0M640.7 354.8h0M591.4 327.4h0M580.7 392.4h0M533.9 389.7h0M594 326.3h0M561.3 322.5h0M567.2 385.1h0M534.9 319.8h0M518.9 386h0M496.5 388h0M564.5 323.6h0M508.9 330.1h0M601.5 399.6h0M584.3 390.6h0M439.5 364.5h0M573 381.7h0M577.3 320.9h0M622.9 351.6h0M551.3 317.1h0M462 379.3h0M573.7 386h0M616.5 379.3h0M618.5 369.8h0M529.1 324h0M526.1 391.3h0M477.9 381.7h0M563.5 379.6h0M543.2 323h0M461.2 335.5h0M546.9 387.2h0M517.1 324.9h0M589.8 333.4h0M551.3 324.7h0M605.9 396h0M561 316.4h0M496.9 327.2h0M569.7 382.4h0M498 389.3h0M590 333.7h0M580.5 326.7h0M572.3 382.3h0M585.3 390.3h0M438.3 360.2h0M504.6 383.9h0M499 330.1h0M445.8 353.7h0M566.7 379.9h0M486.5 388.6h0M528.1 325.8h0M499.3 389h0M469.6 377.1h0M631.1 355.5h0M581.7 332.5h0M588.2 394.6h0M602.7 393.9h0M615 384.6h0M568.9 381.2h0M517.2 381.4h0M510.3 328.3h0M558.3 387.6h0M486.4 330.5h0M531.6 385.5h0M452 345.1h0M549.7 327.5h0M585.3 328.1h0M534.9 322.7h0M511 386.8h0M596.2 331.7h0M570 380.6h0M645 351.8h0M610.5 327.9h0M497.6 385.1h0M618.4 376.6h0M520.9 383.4h0M621.8 347.6h0M526.4 383.3h0M569.6 389.1h0M590.3 329.8h0M534.4 319.3h0M642.5 353.3h0M586.3 393.1h0M550.6 321h0M463.5 333.6h0M620.3 372.9h0M493.1 384.3h0M614.3 380.9h0M510.6 326.7h0M641.4 363.9h0M636.7 353.9h0M629.3 349h0M568.9 379.8h0M586 324.6h0M471.3 328.5h0M611.8 380.3h0M460.2 370.9h0M583.8 325.8h0M607 329h0M590.2 332.9h0M564.5 328h0M642.5 357.6h0M581.5 387.2h0M540.7 390.7h0M552.4 392.1h0M518.4 386.8h0M554.4 381.5h0M572.7 330.2h0M594.5 398.8h0M568.5 382.1h0M449.7 343.8h0M612.5 328h0M617.5 372.5h0M581.5 334.9h0M512 382.2h0M488.8 384.6h0M639.6 353.3h0M582.3 385.8h0M455.9 336.4h0M555.3 386h0M616.7 385.2h0M638.5 349.6h0M477.9 381.3h0M577.5 382.5h0M566.6 319.8h0M567.8 378.9h0M543.7 322.8h0M477.3 378.1h0M539.1 383h0M494.9 326.3h0M529.2 319.8h0M508.5 383.2h0M452.5 371.8h0M520.2 394.8h0M496.5 390.8h0M450.2 342.4h0M535.6 387.9h0M547.4 387.7h0M581.4 331.4h0M512.9 385.9h0M533.8 383.3h0M528.7 388.7h0M486.1 331.4h0M629.7 353.7h0M548.9 321.7h0M573 327.1h0M560.9 325.4h0M580.4 334h0M600.2 332.1h0M532.7 323.2h0M444.7 373.2h0M633.5 367.8h0M494.9 387.8h0M606.2 333.6h0M538 326.2h0M596.4 398.4h0M603.6 332.4h0M642.2 361.9h0M581.4 331.4h0M619.9 337.8h0M463.2 377.4h0M563.1 381.7h0M545.6 384.6h0M608.1 397h0M575.6 390.8h0M642.5 362.9h0M452.9 370.1h0M571.9 327.5h0M618.5 369h0M625.2 367.1h0M551.3 386.8h0M476.7 385.6h0M595.4 331.9h0M494.7 330.4h0M519.2 383.5h0M620.1 370.2h0M612.1 388h0M574.8 387.7h0M520 389.1h0M538.2 324.2h0M441.8 374.2h0M548.3 326.5h0M529 322.5h0M619.8 344.9h0M584.3 327.5h0M476.8 388.9h0M502.5 383.5h0M532.1 392.1h0M478.6 381.9h0M640.1 369.6h0M612.3 336.1h0M464.4 381.2h0M454.9 341.5h0M601.5 397.7h0M490.2 329.3h0M638 350.6h0M619.4 370.6h0M465.7 386.6h0M489 327.2h0M593 394.7h0M644.3 362.4h0M575.8 379.9h0M622.6 352.7h0M558.9 389.3h0M641.5 356.3h0M651.4 355.7h0M574.3 322.6h0M552.6 324.9h0M479 330.4h0M607.5 391.6h0M462.2 372.7h0M623.5 370.7h0M536.1 386.1h0M611.8 388.7h0M635.1 365.1h0M487.1 389.1h0M483.4 325.9h0M602.7 396.8h0M487.4 388.5h0M514.9 386.1h0M441.4 366.4h0M583.9 397.2h0M474.1 328.8h0M567.6 389.9h0M555.3 314.7h0M473.4 330.3h0M583.4 392.7h0M488.2 327.7h0M636.9 365h0M518.4 383h0M539.9 322.5h0M544.8 390.8h0M471.2 329.7h0M474 376.1h0M614.1 385.8h0M553.6 383.7h0M558.7 388h0M606.7 398h0M570.6 383.7h0M573.9 330.6h0M540.4 385.7h0M557.9 324.6h0M466.9 376.3h0M536.7 320.9h0M582.2 327.6h0M625.9 353.6h0M589.4 409.7h0M532.1 321.8h0M582.2 332.2h0M442 367.6h0M566.2 324.6h0M604.5 396.7h0M520.2 383.2h0M446.8 345.1h0M469.8 372.9h0M620.4 372.2h0M606.3 395.1h0M647.3 363.1h0M617.4 336.6h0M443.1 355.9h0M524 315.2h0M496.4 331.4h0M521.8 396.5h0M575.4 384h0M563.9 323.4h0M467.1 374.8h0M637.3 371.9h0M596.3 397.9h0M593.5 396.5h0M475.7 386.9h0M492.7 332.3h0M541 321.3h0M454.5 371.6h0M564.5 389.5h0M457.4 339.5h0M579.5 387.4h0M620.1 366.8h0M623.1 374h0M617.7 349h0M556.4 380.2h0M645 362.6h0M570.6 379.1h0M607.2 390.2h0M439.8 357.6h0M489.1 383.4h0M572.3 379.7h0M470.2 376.3h0M507 384.3h0M516.2 327.9h0M578.6 387.3h0M613.8 376.1h0M542.4 387.4h0M494.5 394.6h0M486.4 397.1h0M472.6 331.8h0M545.6 323.1h0M505.8 330h0M582.2 391.7h0M611.2 332h0M462.1 371.2h0M531.5 382.2h0M612.7 340.5h0M617.7 374h0M557.7 387.8h0M546.6 391.6h0M495.2 383.2h0M537 383.9h0M559.9 325.9h0M551.7 326.3h0M515.6 322.1h0M485.3 327.9h0M578.7 387.4h0M554.3 327.4h0M476.2 377.9h0M630.5 354.1h0M631.2 353.2h0M612.8 332.4h0M638 355.7h0M648.6 357h0M444.9 352.7h0M535.4 389.4h0M481.1 330.7h0M591 393.7h0M612.2 381.2h0M472 385.4h0M621 350h0M545.1 326.9h0M465.7 372.4h0M570.8 328h0M570.7 383.3h0M564.6 381.8h0M465.5 378.1h0M588 396.7h0M518.6 324.8h0M582.8 397.9h0M577.6 393.3h0M509.6 383h0M535.3 326.9h0M520.5 389.1h0M465.9 378.2h0M549.1 320.4h0M584.2 323.9h0M485.9 384.3h0M441.2 369h0M607 334.1h0M535.2 326.6h0M446 344.4h0M492.2 329.8h0M504 322h0M559.2 325.1h0M623.6 354.9h0M461.4 373h0M456.1 343.4h0M592.5 399.5h0M519.6 324.4h0M612.1 334h0M642.4 357.3h0M632.6 350h0M596.4 333.6h0M471 373.7h0M640.5 350h0M512.7 327.5h0M561.5 322.1h0M496.4 387.3h0M527.7 325.5h0M560.1 323.5h0M643 362h0M600 332.2h0M613.5 381.3h0M539.4 382.9h0M500.4 389.6h0M543.9 327.5h0M510.9 321.1h0M563.4 324.2h0M535.9 383.4h0M604.9 328.6h0M575.5 330.2h0M548.1 326.2h0M514.7 383.3h0M646.4 366.1h0M535.3 390.5h0M628.7 351.8h0M488.8 388.6h0M644 356.1h0M501.9 383.6h0M584.1 389.9h0M559 326.9h0M441.7 366.7h0M527.9 387.4h0M459.6 335.2h0M576.1 328.5h0M594.5 330.9h0M465.5 375.9h0M625.9 365.4h0M621.1 350.4h0M633.6 355.2h0M575.5 333.3h0M553.6 388.1h0M610 396.5h0M615.8 340h0M617.1 347h0M509.9 328.8h0M480.2 380.2h0M559.3 382.7h0M437.4 371.9h0M586.1 336h0M631.5 345.8h0M503.3 391.7h0M471.7 377.2h0M458.9 377.1h0M581.1 335h0M473.6 388.8h0M599.3 399.6h0M447.8 345.1h0M495.9 384.6h0M541.4 321.1h0M514 385.1h0M476 381.8h0M504.5 331.5h0M438.3 362.5h0M638.2 353.7h0M618.4 391.6h0M469.7 375.1h0M512.8 329.2h0M517.6 382.5h0M619.2 383.1h0M568.5 390.2h0M542.4 323.1h0M482.9 327.5h0M605.4 407.1h0M622 347.5h0M635.8 362.3h0M551.3 326.6h0M527 384h0M554.5 384.3h0M646.5 359.4h0M567.1 379.8h0M627.2 371.9h0M505.7 386.2h0M529.7 325.6h0M532.5 319.7h0M541.3 384h0M639.1 354h0M604.7 334.3h0M643.5 361.8h0M521.2 314.6h0M573.5 326.8h0M575.2 382.1h0M633.7 365.5h0M514.5 398.3h0M501.4 385.5h0M542.7 317.7h0M475.4 381h0M562.2 318.9h0M468.1 374.8h0M616.1 385.9h0M449.9 370.6h0M638.9 367.5h0M617.1 369.4h0M570.4 380.6h0M614.8 383.3h0M494.6 320.9h0M571.3 326.5h0M450 369.7h0M629.1 368h0M623.9 351.2h0M487.9 383.6h0M589.6 397.4h0M606.6 395.7h0M530.4 392.8h0M439.7 361.6h0M626.3 367.4h0M575.4 390.4h0M568.4 326.1h0M620.5 368.5h0M512.2 326.2h0M564.6 315.4h0M507.1 389.9h0M617.9 377.1h0M547 388.4h0M525.5 395.1h0M540.9 394.1h0M578.2 332.6h0M595 400.6h0M507 328.5h0M633.8 354.1h0M528.2 319.3h0M453.1 343.3h0M437.9 359.7h0M546.6 382.8h0M494.2 384.5h0M472.7 386.3h0M504.9 329.5h0M642.9 360.2h0M479.9 379.6h0M553.6 322.8h0M487.1 385.2h0M468.9 329.8h0M506 331.6h0M593.7 325.5h0M468.2 379.4h0M489 391h0M504.2 324.6h0M483.6 328.9h0M605.5 335h0M616.7 341.9h0M626.9 355.2h0M467.4 375.2h0M591.8 396.3h0M569.5 327.1h0M546.4 322.7h0M643.8 355.4h0M533.7 383.1h0M512 382.5h0M556.7 384.3h0M452.8 370.9h0M639.1 352.8h0M511.8 389.2h0M439.6 356.9h0M548.6 387.8h0M578.5 327.1h0M494 395.8h0M519.7 387.5h0M612.9 336.7h0M484.4 330.8h0M540.5 324.6h0M534 319.8h0M589.9 322.5h0M477.7 380.7h0M505.5 385.5h0M523.9 387.7h0M477.8 382.7h0M535.8 390.7h0M511 382.6h0M514.5 322.6h0M487.2 383.5h0M564 324.3h0M552.4 319.9h0M593.7 397.1h0M560.9 393.1h0M573.3 384.4h0M496 390.5h0M508.6 391.5h0M624 351.7h0M627.2 347.6h0M612.2 402.1h0M471.9 332.2h0M467.9 378.4h0M567.3 383.5h0M530.5 384.6h0M539.7 385h0M538.3 391.4h0M510.5 384.6h0M539.6 393.6h0M500.5 385.8h0M513.8 389h0M522.1 386.8h0M586.9 392.6h0M610 331.4h0M610.5 384.7h0M608.5 389.8h0M500.9 396.2h0M482.4 389h0M544.1 390.4h0M501.5 398.9h0M641.2 364.7h0M627.1 371.3h0M482.9 379h0M458.2 337.1h0M507 329.8h0M578.4 388.8h0M501.1 331.9h0M576.3 326.1h0M482 328.5h0M615.3 380.3h0M472 377h0M604.3 331.8h0M515.3 382.6h0M607.9 395.5h0M585.7 333.2h0M458.2 370.7h0M530.2 384.9h0M610.3 337.5h0M502.5 382.1h0M621.5 345.8h0M445.9 370h0M622.6 374.1h0M578.3 386.7h0M573.4 334.7h0M553.6 384h0M562.3 387.1h0M505.7 331.7h0M531.5 395.8h0M439.5 364.6h0M455.6 371h0M470.9 376.4h0M501.9 384.3h0M592.2 402.4h0M575.1 382.8h0M449.5 370.4h0M483.4 381h0M535 315.8h0M536.2 383.7h0M436.9 360.5h0M593.2 331.3h0M577.8 331.9h0M511.4 328h0M518 386.4h0M452.6 342.5h0M556.8 321.4h0M466.5 331.8h0M516.9 326.5h0M522.3 326.1h0M545 325.7h0M563.3 390.4h0M594.2 330.9h0M441.1 353.8h0M515.6 385.1h0M531.3 393.4h0M579.6 328.7h0M607.5 391.2h0M578.4 390h0M487.3 384.7h0M497.6 331h0M500.6 332h0M565.1 383.3h0M584.2 333.3h0M579 390.2h0M452.7 337.8h0M534.3 321h0M644.8 356.4h0M488.7 384.8h0M558.8 394.5h0M447.1 375.1h0M464.2 333.9h0M577.8 320h0M581.2 388h0M538.8 323.2h0M619 390.8h0M500 324.7h0M509.6 325.5h0M596.6 269.6h0M637.9 269.6h0M583.9 290h0M584.7 297.7h0M580.8 302.3h0M574.3 301.5h0M564.7 302.3h0M561.6 303.5h0M554.6 308.1h0M535.8 308.1h0M522.3 307.3h0M514.6 313.9h0M522.3 315h0M535.8 315.8h0M550 315.8h0M554.6 317.7h0M567.4 315.8h0M573.1 318.9h0M577 318.9h0M587.8 317.7h0M617.5 313.9h0M624 313.9h0M648.3 315.8h0M656.8 315h0M658.7 303.5h0M664.5 298.5h0M667.9 292.7h0M630.2 329.3h0M632.9 327.4h0M630.2 335.1h0M630.9 344.7h0M454.8 393.6h0M451.8 396.7h0M449.8 399.8h0M471.8 394.8h0M430.6 368.6h0M434.4 366.7h0M652.1 367.1h0M640.6 371.7h0M488.4 394.8h0M501.9 398.7h0M511.5 400.6h0M532.7 394h0M546.2 398.7h0M559.7 400.6h0M565.4 401.4h0M577 402.5h0M492.2 406.4h0M498.8 410.2h0M517.3 421h0M548.1 439.1h0M577 403.7h0M578.9 406.4h0M576.2 410.2h0M579.7 414.1h0M577 416h0" fill="none" stroke="#000" stroke-width="3.5" stroke-linecap="round"/>
<path d="M419.2 356.6H680.2" stroke="#000" stroke-width="5.6" fill="none"/>
<path d="M419.2 331.4H680.2" stroke="#000" stroke-width="2.2" stroke-dasharray="8.3 3.75" stroke-dashoffset="0.0" fill="none"/>
<path d="M419.2 382.5H680.2" stroke="#000" stroke-width="2.2" stroke-dasharray="8.3 3.75" stroke-dashoffset="0.0" fill="none"/>
</g>
<rect x="425.4" y="402.0" width="164.4" height="39.6" rx="2.2" fill="#fff" fill-opacity="0.8" stroke="#ccc" stroke-width="1"/>
<path d="M430.0 412.3h24.4" stroke="#000" stroke-width="5.6" stroke-linecap="square" fill="none"/>
<path d="M430.0 430.6h24.4" stroke="#000" stroke-width="2.2" stroke-dasharray="8.2 3.55" fill="none"/>
<text x="464.8" y="416.6" font-size="12.3">mean value</text>
<text x="464.8" y="434.9" font-size="12.3">limits of agreement</text>
<rect x="419.2" y="261.5" width="261.0" height="186.3" fill="none" stroke="#000" stroke-width="1.15"/>
<path d="M438.0 447.8v4.6M486.6 447.8v4.6M535.2 447.8v4.6M583.9 447.8v4.6M632.5 447.8v4.6M419.2 266.5h-4.6M419.2 295.8h-4.6M419.2 325.2h-4.6M419.2 354.6h-4.6M419.2 384.0h-4.6M419.2 413.4h-4.6M419.2 442.7h-4.6" stroke="#000" stroke-width="1.15" fill="none"/>
<g font-size="11.5" text-anchor="middle">
<text x="438.0" y="468.1">400</text>
<text x="486.6" y="468.1">600</text>
<text x="535.2" y="468.1">800</text>
<text x="583.9" y="468.1">1000</text>
<text x="632.5" y="468.1">1200</text>
</g>
<g font-size="11.5" text-anchor="end">
<text x="408.0" y="270.6">600</text>
<text x="408.0" y="299.9">400</text>
<text x="408.0" y="329.3">200</text>
<text x="408.0" y="358.7">0</text>
<text x="408.0" y="388.1">−200</text>
<text x="408.0" y="417.5">−400</text>
<text x="408.0" y="446.8">−600</text>
</g>
<text x="549.7" y="486.3" font-size="12.3" text-anchor="middle">Average [N]</text>
<text x="549.7" y="499.8" font-size="12.3" text-anchor="middle">(d)</text>
<text transform="translate(365.3 354.6) rotate(-90)" font-size="12.3" text-anchor="middle">Difference [N]</text>
</svg>
</body></html>
